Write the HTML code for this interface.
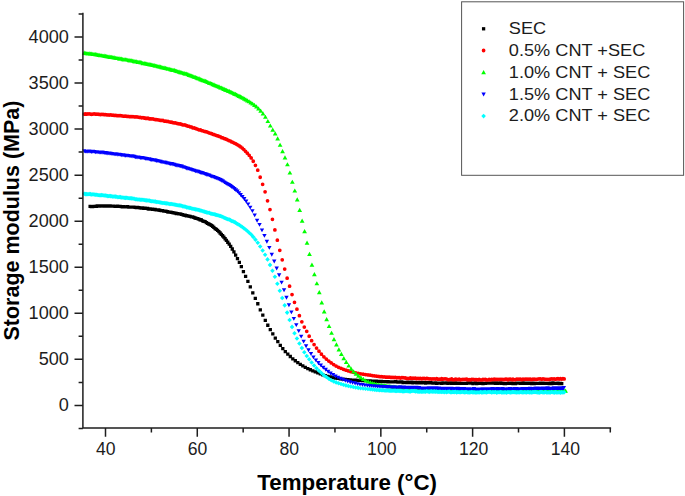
<!DOCTYPE html>
<html><head><meta charset="utf-8"><style>
html,body{margin:0;padding:0;background:#fff;overflow:hidden;}
svg{display:block;position:absolute;left:0;top:0;font-family:"Liberation Sans",sans-serif;}
</style></head><body>
<svg width="685" height="496" viewBox="0 0 685 496">
<rect width="685" height="496" fill="#fff"/>
<g font-size="17.6" fill="#1c1c1c">
<text transform="translate(68.9,411.2) scale(1.03,1)" text-anchor="end">0</text>
<text transform="translate(68.9,365.1) scale(1.03,1)" text-anchor="end">500</text>
<text transform="translate(68.9,319.1) scale(1.03,1)" text-anchor="end">1000</text>
<text transform="translate(68.9,273.1) scale(1.03,1)" text-anchor="end">1500</text>
<text transform="translate(68.9,227.0) scale(1.03,1)" text-anchor="end">2000</text>
<text transform="translate(68.9,180.9) scale(1.03,1)" text-anchor="end">2500</text>
<text transform="translate(68.9,134.9) scale(1.03,1)" text-anchor="end">3000</text>
<text transform="translate(68.9,88.8) scale(1.03,1)" text-anchor="end">3500</text>
<text transform="translate(68.9,42.8) scale(1.03,1)" text-anchor="end">4000</text>
<text x="105.7" y="455.1" text-anchor="middle">40</text>
<text x="197.5" y="455.1" text-anchor="middle">60</text>
<text x="289.3" y="455.1" text-anchor="middle">80</text>
<text x="381.8" y="455.1" text-anchor="middle">100</text>
<text x="473.6" y="455.1" text-anchor="middle">120</text>
<text x="565.4" y="455.1" text-anchor="middle">140</text>
</g>
<g font-weight="bold" font-size="21.9" fill="#000">
<text transform="translate(257.3,489.5) scale(1.02,1.01)">Temperature (°C)</text>
<text transform="translate(18.7,340.5) rotate(-90) scale(0.981,1)">Storage modulus (MPa)</text>
</g>
<path fill="#000000" d="M88.45 204.80h3.3v3.3h-3.3zM89.70 204.93h3.3v3.3h-3.3zM90.95 204.90h3.3v3.3h-3.3zM92.20 204.74h3.3v3.3h-3.3zM93.45 204.65h3.3v3.3h-3.3zM94.70 204.59h3.3v3.3h-3.3zM95.95 204.37h3.3v3.3h-3.3zM97.20 204.42h3.3v3.3h-3.3zM98.45 204.33h3.3v3.3h-3.3zM99.70 204.23h3.3v3.3h-3.3zM100.95 204.30h3.3v3.3h-3.3zM102.20 204.35h3.3v3.3h-3.3zM103.45 204.36h3.3v3.3h-3.3zM104.70 204.52h3.3v3.3h-3.3zM105.95 204.37h3.3v3.3h-3.3zM107.20 204.38h3.3v3.3h-3.3zM108.45 204.34h3.3v3.3h-3.3zM109.70 204.44h3.3v3.3h-3.3zM110.95 204.38h3.3v3.3h-3.3zM112.20 204.56h3.3v3.3h-3.3zM113.45 204.66h3.3v3.3h-3.3zM114.70 204.67h3.3v3.3h-3.3zM115.95 204.49h3.3v3.3h-3.3zM117.20 204.66h3.3v3.3h-3.3zM118.45 204.78h3.3v3.3h-3.3zM119.70 204.99h3.3v3.3h-3.3zM120.95 205.08h3.3v3.3h-3.3zM122.20 204.93h3.3v3.3h-3.3zM123.45 205.17h3.3v3.3h-3.3zM124.70 205.23h3.3v3.3h-3.3zM125.95 205.03h3.3v3.3h-3.3zM127.20 205.43h3.3v3.3h-3.3zM128.45 205.57h3.3v3.3h-3.3zM129.70 205.52h3.3v3.3h-3.3zM130.95 205.44h3.3v3.3h-3.3zM132.20 205.55h3.3v3.3h-3.3zM133.45 205.72h3.3v3.3h-3.3zM134.70 205.97h3.3v3.3h-3.3zM135.95 205.77h3.3v3.3h-3.3zM137.20 205.96h3.3v3.3h-3.3zM138.45 206.19h3.3v3.3h-3.3zM139.70 206.38h3.3v3.3h-3.3zM140.95 206.30h3.3v3.3h-3.3zM142.20 206.74h3.3v3.3h-3.3zM143.45 206.61h3.3v3.3h-3.3zM144.70 206.69h3.3v3.3h-3.3zM145.95 206.85h3.3v3.3h-3.3zM147.20 207.38h3.3v3.3h-3.3zM148.45 207.23h3.3v3.3h-3.3zM149.70 207.42h3.3v3.3h-3.3zM150.95 207.61h3.3v3.3h-3.3zM152.20 207.74h3.3v3.3h-3.3zM153.45 207.85h3.3v3.3h-3.3zM154.70 208.14h3.3v3.3h-3.3zM155.95 208.23h3.3v3.3h-3.3zM157.20 208.37h3.3v3.3h-3.3zM158.45 208.66h3.3v3.3h-3.3zM159.70 208.93h3.3v3.3h-3.3zM160.95 209.02h3.3v3.3h-3.3zM162.20 209.38h3.3v3.3h-3.3zM163.45 209.50h3.3v3.3h-3.3zM164.70 209.68h3.3v3.3h-3.3zM165.95 210.09h3.3v3.3h-3.3zM167.20 210.43h3.3v3.3h-3.3zM168.45 210.52h3.3v3.3h-3.3zM169.70 210.81h3.3v3.3h-3.3zM170.95 211.05h3.3v3.3h-3.3zM172.20 211.31h3.3v3.3h-3.3zM173.45 211.44h3.3v3.3h-3.3zM174.70 211.85h3.3v3.3h-3.3zM175.95 212.06h3.3v3.3h-3.3zM177.20 212.24h3.3v3.3h-3.3zM178.45 212.31h3.3v3.3h-3.3zM179.70 212.79h3.3v3.3h-3.3zM180.95 213.02h3.3v3.3h-3.3zM182.20 213.38h3.3v3.3h-3.3zM183.45 213.62h3.3v3.3h-3.3zM184.70 214.09h3.3v3.3h-3.3zM185.95 214.31h3.3v3.3h-3.3zM187.20 214.55h3.3v3.3h-3.3zM188.45 214.79h3.3v3.3h-3.3zM189.70 215.27h3.3v3.3h-3.3zM190.95 215.30h3.3v3.3h-3.3zM192.20 215.65h3.3v3.3h-3.3zM193.45 216.33h3.3v3.3h-3.3zM194.70 216.63h3.3v3.3h-3.3zM195.95 216.94h3.3v3.3h-3.3zM197.20 217.49h3.3v3.3h-3.3zM198.45 218.09h3.3v3.3h-3.3zM199.70 218.37h3.3v3.3h-3.3zM200.95 219.14h3.3v3.3h-3.3zM202.20 219.71h3.3v3.3h-3.3zM203.45 220.05h3.3v3.3h-3.3zM204.70 220.89h3.3v3.3h-3.3zM205.95 221.72h3.3v3.3h-3.3zM207.20 222.34h3.3v3.3h-3.3zM208.45 223.03h3.3v3.3h-3.3zM209.70 223.74h3.3v3.3h-3.3zM210.95 224.58h3.3v3.3h-3.3zM212.20 225.65h3.3v3.3h-3.3zM213.45 226.89h3.3v3.3h-3.3zM214.70 227.68h3.3v3.3h-3.3zM215.95 228.81h3.3v3.3h-3.3zM217.20 230.05h3.3v3.3h-3.3zM218.45 231.35h3.3v3.3h-3.3zM219.70 232.66h3.3v3.3h-3.3zM220.95 234.08h3.3v3.3h-3.3zM222.20 235.45h3.3v3.3h-3.3zM223.45 237.12h3.3v3.3h-3.3zM224.75 238.80h3.3v3.3h-3.3zM226.12 240.60h3.3v3.3h-3.3zM227.55 242.57h3.3v3.3h-3.3zM229.05 244.78h3.3v3.3h-3.3zM230.62 247.33h3.3v3.3h-3.3zM232.27 250.26h3.3v3.3h-3.3zM234.00 253.49h3.3v3.3h-3.3zM235.81 256.91h3.3v3.3h-3.3zM237.70 260.66h3.3v3.3h-3.3zM239.69 265.04h3.3v3.3h-3.3zM241.77 270.03h3.3v3.3h-3.3zM243.96 274.65h3.3v3.3h-3.3zM246.25 279.70h3.3v3.3h-3.3zM248.65 285.17h3.3v3.3h-3.3zM251.15 291.14h3.3v3.3h-3.3zM253.65 296.72h3.3v3.3h-3.3zM256.15 302.09h3.3v3.3h-3.3zM258.65 308.17h3.3v3.3h-3.3zM261.15 313.45h3.3v3.3h-3.3zM263.65 318.65h3.3v3.3h-3.3zM266.15 323.61h3.3v3.3h-3.3zM268.65 328.06h3.3v3.3h-3.3zM271.15 332.29h3.3v3.3h-3.3zM273.65 336.50h3.3v3.3h-3.3zM276.15 340.04h3.3v3.3h-3.3zM278.65 343.70h3.3v3.3h-3.3zM281.15 346.97h3.3v3.3h-3.3zM283.65 349.89h3.3v3.3h-3.3zM286.15 352.45h3.3v3.3h-3.3zM288.65 354.85h3.3v3.3h-3.3zM291.15 357.14h3.3v3.3h-3.3zM293.65 359.09h3.3v3.3h-3.3zM296.15 360.91h3.3v3.3h-3.3zM298.65 362.68h3.3v3.3h-3.3zM301.15 364.26h3.3v3.3h-3.3zM303.65 365.69h3.3v3.3h-3.3zM306.15 366.95h3.3v3.3h-3.3zM308.65 368.10h3.3v3.3h-3.3zM311.15 369.20h3.3v3.3h-3.3zM313.65 370.23h3.3v3.3h-3.3zM316.15 371.23h3.3v3.3h-3.3zM318.65 372.22h3.3v3.3h-3.3zM321.15 373.15h3.3v3.3h-3.3zM323.65 373.95h3.3v3.3h-3.3zM326.15 374.68h3.3v3.3h-3.3zM328.65 375.32h3.3v3.3h-3.3zM331.15 375.91h3.3v3.3h-3.3zM333.65 376.40h3.3v3.3h-3.3zM336.15 376.82h3.3v3.3h-3.3zM338.65 377.17h3.3v3.3h-3.3zM341.15 377.49h3.3v3.3h-3.3zM343.65 377.79h3.3v3.3h-3.3zM346.15 378.04h3.3v3.3h-3.3zM348.65 378.24h3.3v3.3h-3.3zM351.15 378.39h3.3v3.3h-3.3zM353.65 378.53h3.3v3.3h-3.3zM356.15 378.65h3.3v3.3h-3.3zM358.65 378.77h3.3v3.3h-3.3zM361.15 378.89h3.3v3.3h-3.3zM363.65 379.02h3.3v3.3h-3.3zM366.13 379.15h3.3v3.3h-3.3zM368.45 379.28h3.3v3.3h-3.3zM370.64 379.40h3.3v3.3h-3.3zM372.68 379.51h3.3v3.3h-3.3zM374.60 379.61h3.3v3.3h-3.3zM376.39 379.70h3.3v3.3h-3.3zM378.08 379.78h3.3v3.3h-3.3zM379.66 379.85h3.3v3.3h-3.3zM381.14 379.91h3.3v3.3h-3.3zM382.53 379.96h3.3v3.3h-3.3zM383.83 380.01h3.3v3.3h-3.3zM385.08 380.05h3.3v3.3h-3.3zM386.33 380.10h3.3v3.3h-3.3zM387.58 380.14h3.3v3.3h-3.3zM388.83 380.18h3.3v3.3h-3.3zM390.08 380.22h3.3v3.3h-3.3zM391.33 380.26h3.3v3.3h-3.3zM392.58 380.30h3.3v3.3h-3.3zM393.83 380.04h3.3v3.3h-3.3zM395.08 380.17h3.3v3.3h-3.3zM396.33 380.46h3.3v3.3h-3.3zM397.58 380.57h3.3v3.3h-3.3zM398.83 380.18h3.3v3.3h-3.3zM400.08 380.30h3.3v3.3h-3.3zM401.33 380.89h3.3v3.3h-3.3zM402.58 380.64h3.3v3.3h-3.3zM403.83 380.64h3.3v3.3h-3.3zM405.08 380.91h3.3v3.3h-3.3zM406.33 380.51h3.3v3.3h-3.3zM407.58 380.85h3.3v3.3h-3.3zM408.83 381.01h3.3v3.3h-3.3zM410.08 380.45h3.3v3.3h-3.3zM411.33 381.11h3.3v3.3h-3.3zM412.58 380.68h3.3v3.3h-3.3zM413.83 380.78h3.3v3.3h-3.3zM415.08 381.08h3.3v3.3h-3.3zM416.33 381.14h3.3v3.3h-3.3zM417.58 380.71h3.3v3.3h-3.3zM418.83 381.29h3.3v3.3h-3.3zM420.08 381.09h3.3v3.3h-3.3zM421.33 380.70h3.3v3.3h-3.3zM422.58 381.00h3.3v3.3h-3.3zM423.83 381.40h3.3v3.3h-3.3zM425.08 380.93h3.3v3.3h-3.3zM426.33 381.08h3.3v3.3h-3.3zM427.58 381.22h3.3v3.3h-3.3zM428.83 380.95h3.3v3.3h-3.3zM430.08 381.30h3.3v3.3h-3.3zM431.33 381.50h3.3v3.3h-3.3zM432.58 381.38h3.3v3.3h-3.3zM433.83 381.32h3.3v3.3h-3.3zM435.08 381.59h3.3v3.3h-3.3zM436.33 381.45h3.3v3.3h-3.3zM437.58 381.44h3.3v3.3h-3.3zM438.83 381.46h3.3v3.3h-3.3zM440.08 381.63h3.3v3.3h-3.3zM441.33 381.16h3.3v3.3h-3.3zM442.58 381.38h3.3v3.3h-3.3zM443.83 381.41h3.3v3.3h-3.3zM445.08 381.22h3.3v3.3h-3.3zM446.33 381.71h3.3v3.3h-3.3zM447.58 381.36h3.3v3.3h-3.3zM448.83 381.30h3.3v3.3h-3.3zM450.08 381.64h3.3v3.3h-3.3zM451.33 381.23h3.3v3.3h-3.3zM452.58 381.78h3.3v3.3h-3.3zM453.83 381.17h3.3v3.3h-3.3zM455.08 381.77h3.3v3.3h-3.3zM456.33 381.59h3.3v3.3h-3.3zM457.58 381.53h3.3v3.3h-3.3zM458.83 381.80h3.3v3.3h-3.3zM460.08 381.82h3.3v3.3h-3.3zM461.33 381.78h3.3v3.3h-3.3zM462.58 381.80h3.3v3.3h-3.3zM463.83 381.76h3.3v3.3h-3.3zM465.08 381.74h3.3v3.3h-3.3zM466.33 381.31h3.3v3.3h-3.3zM467.58 381.27h3.3v3.3h-3.3zM468.83 381.34h3.3v3.3h-3.3zM470.08 381.49h3.3v3.3h-3.3zM471.33 381.95h3.3v3.3h-3.3zM472.58 381.52h3.3v3.3h-3.3zM473.83 381.35h3.3v3.3h-3.3zM475.08 381.84h3.3v3.3h-3.3zM476.33 381.66h3.3v3.3h-3.3zM477.58 381.49h3.3v3.3h-3.3zM478.83 381.58h3.3v3.3h-3.3zM480.08 381.47h3.3v3.3h-3.3zM481.33 381.84h3.3v3.3h-3.3zM482.58 381.64h3.3v3.3h-3.3zM483.83 381.72h3.3v3.3h-3.3zM485.08 381.47h3.3v3.3h-3.3zM486.33 381.56h3.3v3.3h-3.3zM487.58 381.55h3.3v3.3h-3.3zM488.83 381.43h3.3v3.3h-3.3zM490.08 381.41h3.3v3.3h-3.3zM491.33 381.31h3.3v3.3h-3.3zM492.58 381.35h3.3v3.3h-3.3zM493.83 381.65h3.3v3.3h-3.3zM495.08 381.36h3.3v3.3h-3.3zM496.33 381.76h3.3v3.3h-3.3zM497.58 381.43h3.3v3.3h-3.3zM498.83 381.35h3.3v3.3h-3.3zM500.08 381.60h3.3v3.3h-3.3zM501.33 381.75h3.3v3.3h-3.3zM502.58 381.91h3.3v3.3h-3.3zM503.83 381.92h3.3v3.3h-3.3zM505.08 381.77h3.3v3.3h-3.3zM506.33 381.63h3.3v3.3h-3.3zM507.58 381.54h3.3v3.3h-3.3zM508.83 381.77h3.3v3.3h-3.3zM510.08 381.45h3.3v3.3h-3.3zM511.33 381.89h3.3v3.3h-3.3zM512.58 381.69h3.3v3.3h-3.3zM513.83 381.98h3.3v3.3h-3.3zM515.08 381.39h3.3v3.3h-3.3zM516.33 381.42h3.3v3.3h-3.3zM517.58 381.38h3.3v3.3h-3.3zM518.83 381.82h3.3v3.3h-3.3zM520.08 381.74h3.3v3.3h-3.3zM521.33 381.34h3.3v3.3h-3.3zM522.58 381.72h3.3v3.3h-3.3zM523.83 381.49h3.3v3.3h-3.3zM525.08 381.59h3.3v3.3h-3.3zM526.33 381.68h3.3v3.3h-3.3zM527.58 381.47h3.3v3.3h-3.3zM528.83 381.76h3.3v3.3h-3.3zM530.08 381.91h3.3v3.3h-3.3zM531.33 381.38h3.3v3.3h-3.3zM532.58 381.95h3.3v3.3h-3.3zM533.83 381.63h3.3v3.3h-3.3zM535.08 381.67h3.3v3.3h-3.3zM536.33 381.79h3.3v3.3h-3.3zM537.58 381.77h3.3v3.3h-3.3zM538.83 381.45h3.3v3.3h-3.3zM540.08 381.74h3.3v3.3h-3.3zM541.33 381.59h3.3v3.3h-3.3zM542.58 381.73h3.3v3.3h-3.3zM543.83 381.67h3.3v3.3h-3.3zM545.08 381.69h3.3v3.3h-3.3zM546.33 381.74h3.3v3.3h-3.3zM547.58 381.94h3.3v3.3h-3.3zM548.83 381.50h3.3v3.3h-3.3zM550.08 381.96h3.3v3.3h-3.3zM551.33 381.31h3.3v3.3h-3.3zM552.58 381.67h3.3v3.3h-3.3zM553.83 381.64h3.3v3.3h-3.3zM555.08 381.82h3.3v3.3h-3.3zM556.33 381.41h3.3v3.3h-3.3zM557.58 381.98h3.3v3.3h-3.3zM558.83 381.87h3.3v3.3h-3.3zM560.08 381.89h3.3v3.3h-3.3z"/>
<path fill="#ff0000" d="M82.32 114.10a1.88 1.88 0 1 0 3.76 0a1.88 1.88 0 1 0 -3.76 0zM83.57 114.00a1.88 1.88 0 1 0 3.76 0a1.88 1.88 0 1 0 -3.76 0zM84.82 114.15a1.88 1.88 0 1 0 3.76 0a1.88 1.88 0 1 0 -3.76 0zM86.07 113.83a1.88 1.88 0 1 0 3.76 0a1.88 1.88 0 1 0 -3.76 0zM87.32 113.92a1.88 1.88 0 1 0 3.76 0a1.88 1.88 0 1 0 -3.76 0zM88.57 114.12a1.88 1.88 0 1 0 3.76 0a1.88 1.88 0 1 0 -3.76 0zM89.82 114.27a1.88 1.88 0 1 0 3.76 0a1.88 1.88 0 1 0 -3.76 0zM91.07 114.01a1.88 1.88 0 1 0 3.76 0a1.88 1.88 0 1 0 -3.76 0zM92.32 113.98a1.88 1.88 0 1 0 3.76 0a1.88 1.88 0 1 0 -3.76 0zM93.57 114.13a1.88 1.88 0 1 0 3.76 0a1.88 1.88 0 1 0 -3.76 0zM94.82 114.15a1.88 1.88 0 1 0 3.76 0a1.88 1.88 0 1 0 -3.76 0zM96.07 114.23a1.88 1.88 0 1 0 3.76 0a1.88 1.88 0 1 0 -3.76 0zM97.32 114.43a1.88 1.88 0 1 0 3.76 0a1.88 1.88 0 1 0 -3.76 0zM98.57 114.58a1.88 1.88 0 1 0 3.76 0a1.88 1.88 0 1 0 -3.76 0zM99.82 114.48a1.88 1.88 0 1 0 3.76 0a1.88 1.88 0 1 0 -3.76 0zM101.07 114.42a1.88 1.88 0 1 0 3.76 0a1.88 1.88 0 1 0 -3.76 0zM102.32 114.67a1.88 1.88 0 1 0 3.76 0a1.88 1.88 0 1 0 -3.76 0zM103.57 114.70a1.88 1.88 0 1 0 3.76 0a1.88 1.88 0 1 0 -3.76 0zM104.82 114.76a1.88 1.88 0 1 0 3.76 0a1.88 1.88 0 1 0 -3.76 0zM106.07 114.99a1.88 1.88 0 1 0 3.76 0a1.88 1.88 0 1 0 -3.76 0zM107.32 115.05a1.88 1.88 0 1 0 3.76 0a1.88 1.88 0 1 0 -3.76 0zM108.57 114.89a1.88 1.88 0 1 0 3.76 0a1.88 1.88 0 1 0 -3.76 0zM109.82 115.12a1.88 1.88 0 1 0 3.76 0a1.88 1.88 0 1 0 -3.76 0zM111.07 115.22a1.88 1.88 0 1 0 3.76 0a1.88 1.88 0 1 0 -3.76 0zM112.32 115.44a1.88 1.88 0 1 0 3.76 0a1.88 1.88 0 1 0 -3.76 0zM113.57 115.49a1.88 1.88 0 1 0 3.76 0a1.88 1.88 0 1 0 -3.76 0zM114.82 115.60a1.88 1.88 0 1 0 3.76 0a1.88 1.88 0 1 0 -3.76 0zM116.07 115.56a1.88 1.88 0 1 0 3.76 0a1.88 1.88 0 1 0 -3.76 0zM117.32 115.64a1.88 1.88 0 1 0 3.76 0a1.88 1.88 0 1 0 -3.76 0zM118.57 115.57a1.88 1.88 0 1 0 3.76 0a1.88 1.88 0 1 0 -3.76 0zM119.82 115.77a1.88 1.88 0 1 0 3.76 0a1.88 1.88 0 1 0 -3.76 0zM121.07 116.01a1.88 1.88 0 1 0 3.76 0a1.88 1.88 0 1 0 -3.76 0zM122.32 116.12a1.88 1.88 0 1 0 3.76 0a1.88 1.88 0 1 0 -3.76 0zM123.57 116.09a1.88 1.88 0 1 0 3.76 0a1.88 1.88 0 1 0 -3.76 0zM124.82 116.28a1.88 1.88 0 1 0 3.76 0a1.88 1.88 0 1 0 -3.76 0zM126.07 116.27a1.88 1.88 0 1 0 3.76 0a1.88 1.88 0 1 0 -3.76 0zM127.32 116.52a1.88 1.88 0 1 0 3.76 0a1.88 1.88 0 1 0 -3.76 0zM128.57 116.52a1.88 1.88 0 1 0 3.76 0a1.88 1.88 0 1 0 -3.76 0zM129.82 116.73a1.88 1.88 0 1 0 3.76 0a1.88 1.88 0 1 0 -3.76 0zM131.07 116.57a1.88 1.88 0 1 0 3.76 0a1.88 1.88 0 1 0 -3.76 0zM132.32 116.76a1.88 1.88 0 1 0 3.76 0a1.88 1.88 0 1 0 -3.76 0zM133.57 116.98a1.88 1.88 0 1 0 3.76 0a1.88 1.88 0 1 0 -3.76 0zM134.82 116.89a1.88 1.88 0 1 0 3.76 0a1.88 1.88 0 1 0 -3.76 0zM136.07 117.01a1.88 1.88 0 1 0 3.76 0a1.88 1.88 0 1 0 -3.76 0zM137.32 117.27a1.88 1.88 0 1 0 3.76 0a1.88 1.88 0 1 0 -3.76 0zM138.57 117.47a1.88 1.88 0 1 0 3.76 0a1.88 1.88 0 1 0 -3.76 0zM139.82 117.78a1.88 1.88 0 1 0 3.76 0a1.88 1.88 0 1 0 -3.76 0zM141.07 117.70a1.88 1.88 0 1 0 3.76 0a1.88 1.88 0 1 0 -3.76 0zM142.32 117.99a1.88 1.88 0 1 0 3.76 0a1.88 1.88 0 1 0 -3.76 0zM143.57 118.26a1.88 1.88 0 1 0 3.76 0a1.88 1.88 0 1 0 -3.76 0zM144.82 118.39a1.88 1.88 0 1 0 3.76 0a1.88 1.88 0 1 0 -3.76 0zM146.07 118.15a1.88 1.88 0 1 0 3.76 0a1.88 1.88 0 1 0 -3.76 0zM147.32 118.75a1.88 1.88 0 1 0 3.76 0a1.88 1.88 0 1 0 -3.76 0zM148.57 118.89a1.88 1.88 0 1 0 3.76 0a1.88 1.88 0 1 0 -3.76 0zM149.82 118.98a1.88 1.88 0 1 0 3.76 0a1.88 1.88 0 1 0 -3.76 0zM151.07 118.90a1.88 1.88 0 1 0 3.76 0a1.88 1.88 0 1 0 -3.76 0zM152.32 119.30a1.88 1.88 0 1 0 3.76 0a1.88 1.88 0 1 0 -3.76 0zM153.57 119.59a1.88 1.88 0 1 0 3.76 0a1.88 1.88 0 1 0 -3.76 0zM154.82 119.67a1.88 1.88 0 1 0 3.76 0a1.88 1.88 0 1 0 -3.76 0zM156.07 119.78a1.88 1.88 0 1 0 3.76 0a1.88 1.88 0 1 0 -3.76 0zM157.32 120.07a1.88 1.88 0 1 0 3.76 0a1.88 1.88 0 1 0 -3.76 0zM158.57 120.42a1.88 1.88 0 1 0 3.76 0a1.88 1.88 0 1 0 -3.76 0zM159.82 120.29a1.88 1.88 0 1 0 3.76 0a1.88 1.88 0 1 0 -3.76 0zM161.07 120.47a1.88 1.88 0 1 0 3.76 0a1.88 1.88 0 1 0 -3.76 0zM162.32 121.09a1.88 1.88 0 1 0 3.76 0a1.88 1.88 0 1 0 -3.76 0zM163.57 121.02a1.88 1.88 0 1 0 3.76 0a1.88 1.88 0 1 0 -3.76 0zM164.82 121.32a1.88 1.88 0 1 0 3.76 0a1.88 1.88 0 1 0 -3.76 0zM166.07 121.46a1.88 1.88 0 1 0 3.76 0a1.88 1.88 0 1 0 -3.76 0zM167.32 121.84a1.88 1.88 0 1 0 3.76 0a1.88 1.88 0 1 0 -3.76 0zM168.57 122.10a1.88 1.88 0 1 0 3.76 0a1.88 1.88 0 1 0 -3.76 0zM169.82 122.18a1.88 1.88 0 1 0 3.76 0a1.88 1.88 0 1 0 -3.76 0zM171.07 122.68a1.88 1.88 0 1 0 3.76 0a1.88 1.88 0 1 0 -3.76 0zM172.32 122.93a1.88 1.88 0 1 0 3.76 0a1.88 1.88 0 1 0 -3.76 0zM173.57 122.92a1.88 1.88 0 1 0 3.76 0a1.88 1.88 0 1 0 -3.76 0zM174.82 123.33a1.88 1.88 0 1 0 3.76 0a1.88 1.88 0 1 0 -3.76 0zM176.07 123.73a1.88 1.88 0 1 0 3.76 0a1.88 1.88 0 1 0 -3.76 0zM177.32 123.91a1.88 1.88 0 1 0 3.76 0a1.88 1.88 0 1 0 -3.76 0zM178.57 123.91a1.88 1.88 0 1 0 3.76 0a1.88 1.88 0 1 0 -3.76 0zM179.82 124.47a1.88 1.88 0 1 0 3.76 0a1.88 1.88 0 1 0 -3.76 0zM181.07 124.87a1.88 1.88 0 1 0 3.76 0a1.88 1.88 0 1 0 -3.76 0zM182.32 124.94a1.88 1.88 0 1 0 3.76 0a1.88 1.88 0 1 0 -3.76 0zM183.57 125.17a1.88 1.88 0 1 0 3.76 0a1.88 1.88 0 1 0 -3.76 0zM184.82 125.66a1.88 1.88 0 1 0 3.76 0a1.88 1.88 0 1 0 -3.76 0zM186.07 126.14a1.88 1.88 0 1 0 3.76 0a1.88 1.88 0 1 0 -3.76 0zM187.32 126.35a1.88 1.88 0 1 0 3.76 0a1.88 1.88 0 1 0 -3.76 0zM188.57 126.96a1.88 1.88 0 1 0 3.76 0a1.88 1.88 0 1 0 -3.76 0zM189.82 127.12a1.88 1.88 0 1 0 3.76 0a1.88 1.88 0 1 0 -3.76 0zM191.07 127.90a1.88 1.88 0 1 0 3.76 0a1.88 1.88 0 1 0 -3.76 0zM192.32 127.95a1.88 1.88 0 1 0 3.76 0a1.88 1.88 0 1 0 -3.76 0zM193.57 128.41a1.88 1.88 0 1 0 3.76 0a1.88 1.88 0 1 0 -3.76 0zM194.82 128.94a1.88 1.88 0 1 0 3.76 0a1.88 1.88 0 1 0 -3.76 0zM196.07 129.33a1.88 1.88 0 1 0 3.76 0a1.88 1.88 0 1 0 -3.76 0zM197.32 129.87a1.88 1.88 0 1 0 3.76 0a1.88 1.88 0 1 0 -3.76 0zM198.57 129.92a1.88 1.88 0 1 0 3.76 0a1.88 1.88 0 1 0 -3.76 0zM199.82 130.60a1.88 1.88 0 1 0 3.76 0a1.88 1.88 0 1 0 -3.76 0zM201.07 130.80a1.88 1.88 0 1 0 3.76 0a1.88 1.88 0 1 0 -3.76 0zM202.32 131.33a1.88 1.88 0 1 0 3.76 0a1.88 1.88 0 1 0 -3.76 0zM203.57 131.69a1.88 1.88 0 1 0 3.76 0a1.88 1.88 0 1 0 -3.76 0zM204.82 131.93a1.88 1.88 0 1 0 3.76 0a1.88 1.88 0 1 0 -3.76 0zM206.07 132.29a1.88 1.88 0 1 0 3.76 0a1.88 1.88 0 1 0 -3.76 0zM207.32 132.98a1.88 1.88 0 1 0 3.76 0a1.88 1.88 0 1 0 -3.76 0zM208.57 133.27a1.88 1.88 0 1 0 3.76 0a1.88 1.88 0 1 0 -3.76 0zM209.82 133.73a1.88 1.88 0 1 0 3.76 0a1.88 1.88 0 1 0 -3.76 0zM211.07 134.36a1.88 1.88 0 1 0 3.76 0a1.88 1.88 0 1 0 -3.76 0zM212.32 134.68a1.88 1.88 0 1 0 3.76 0a1.88 1.88 0 1 0 -3.76 0zM213.57 135.06a1.88 1.88 0 1 0 3.76 0a1.88 1.88 0 1 0 -3.76 0zM214.82 135.54a1.88 1.88 0 1 0 3.76 0a1.88 1.88 0 1 0 -3.76 0zM216.07 135.93a1.88 1.88 0 1 0 3.76 0a1.88 1.88 0 1 0 -3.76 0zM217.32 136.42a1.88 1.88 0 1 0 3.76 0a1.88 1.88 0 1 0 -3.76 0zM218.57 136.81a1.88 1.88 0 1 0 3.76 0a1.88 1.88 0 1 0 -3.76 0zM219.82 137.70a1.88 1.88 0 1 0 3.76 0a1.88 1.88 0 1 0 -3.76 0zM221.07 137.96a1.88 1.88 0 1 0 3.76 0a1.88 1.88 0 1 0 -3.76 0zM222.32 138.58a1.88 1.88 0 1 0 3.76 0a1.88 1.88 0 1 0 -3.76 0zM223.57 138.96a1.88 1.88 0 1 0 3.76 0a1.88 1.88 0 1 0 -3.76 0zM224.82 139.38a1.88 1.88 0 1 0 3.76 0a1.88 1.88 0 1 0 -3.76 0zM226.07 140.07a1.88 1.88 0 1 0 3.76 0a1.88 1.88 0 1 0 -3.76 0zM227.32 140.63a1.88 1.88 0 1 0 3.76 0a1.88 1.88 0 1 0 -3.76 0zM228.57 141.03a1.88 1.88 0 1 0 3.76 0a1.88 1.88 0 1 0 -3.76 0zM229.82 141.96a1.88 1.88 0 1 0 3.76 0a1.88 1.88 0 1 0 -3.76 0zM231.07 142.33a1.88 1.88 0 1 0 3.76 0a1.88 1.88 0 1 0 -3.76 0zM232.32 143.10a1.88 1.88 0 1 0 3.76 0a1.88 1.88 0 1 0 -3.76 0zM233.57 143.51a1.88 1.88 0 1 0 3.76 0a1.88 1.88 0 1 0 -3.76 0zM234.82 144.34a1.88 1.88 0 1 0 3.76 0a1.88 1.88 0 1 0 -3.76 0zM236.11 145.07a1.88 1.88 0 1 0 3.76 0a1.88 1.88 0 1 0 -3.76 0zM237.47 145.91a1.88 1.88 0 1 0 3.76 0a1.88 1.88 0 1 0 -3.76 0zM238.90 146.89a1.88 1.88 0 1 0 3.76 0a1.88 1.88 0 1 0 -3.76 0zM240.41 148.10a1.88 1.88 0 1 0 3.76 0a1.88 1.88 0 1 0 -3.76 0zM242.00 149.62a1.88 1.88 0 1 0 3.76 0a1.88 1.88 0 1 0 -3.76 0zM243.68 151.35a1.88 1.88 0 1 0 3.76 0a1.88 1.88 0 1 0 -3.76 0zM245.45 153.22a1.88 1.88 0 1 0 3.76 0a1.88 1.88 0 1 0 -3.76 0zM247.32 155.36a1.88 1.88 0 1 0 3.76 0a1.88 1.88 0 1 0 -3.76 0zM249.29 157.95a1.88 1.88 0 1 0 3.76 0a1.88 1.88 0 1 0 -3.76 0zM251.37 161.25a1.88 1.88 0 1 0 3.76 0a1.88 1.88 0 1 0 -3.76 0zM253.56 165.30a1.88 1.88 0 1 0 3.76 0a1.88 1.88 0 1 0 -3.76 0zM255.87 170.19a1.88 1.88 0 1 0 3.76 0a1.88 1.88 0 1 0 -3.76 0zM258.31 177.25a1.88 1.88 0 1 0 3.76 0a1.88 1.88 0 1 0 -3.76 0zM260.76 184.32a1.88 1.88 0 1 0 3.76 0a1.88 1.88 0 1 0 -3.76 0zM263.21 191.86a1.88 1.88 0 1 0 3.76 0a1.88 1.88 0 1 0 -3.76 0zM265.66 200.80a1.88 1.88 0 1 0 3.76 0a1.88 1.88 0 1 0 -3.76 0zM268.11 209.53a1.88 1.88 0 1 0 3.76 0a1.88 1.88 0 1 0 -3.76 0zM270.56 219.26a1.88 1.88 0 1 0 3.76 0a1.88 1.88 0 1 0 -3.76 0zM273.01 229.98a1.88 1.88 0 1 0 3.76 0a1.88 1.88 0 1 0 -3.76 0zM275.46 240.16a1.88 1.88 0 1 0 3.76 0a1.88 1.88 0 1 0 -3.76 0zM277.91 250.35a1.88 1.88 0 1 0 3.76 0a1.88 1.88 0 1 0 -3.76 0zM280.36 259.86a1.88 1.88 0 1 0 3.76 0a1.88 1.88 0 1 0 -3.76 0zM282.81 269.08a1.88 1.88 0 1 0 3.76 0a1.88 1.88 0 1 0 -3.76 0zM285.26 278.19a1.88 1.88 0 1 0 3.76 0a1.88 1.88 0 1 0 -3.76 0zM287.71 286.16a1.88 1.88 0 1 0 3.76 0a1.88 1.88 0 1 0 -3.76 0zM290.16 294.53a1.88 1.88 0 1 0 3.76 0a1.88 1.88 0 1 0 -3.76 0zM292.61 302.27a1.88 1.88 0 1 0 3.76 0a1.88 1.88 0 1 0 -3.76 0zM295.06 309.13a1.88 1.88 0 1 0 3.76 0a1.88 1.88 0 1 0 -3.76 0zM297.51 315.71a1.88 1.88 0 1 0 3.76 0a1.88 1.88 0 1 0 -3.76 0zM299.96 321.83a1.88 1.88 0 1 0 3.76 0a1.88 1.88 0 1 0 -3.76 0zM302.41 327.08a1.88 1.88 0 1 0 3.76 0a1.88 1.88 0 1 0 -3.76 0zM304.86 331.32a1.88 1.88 0 1 0 3.76 0a1.88 1.88 0 1 0 -3.76 0zM307.31 336.18a1.88 1.88 0 1 0 3.76 0a1.88 1.88 0 1 0 -3.76 0zM309.76 340.73a1.88 1.88 0 1 0 3.76 0a1.88 1.88 0 1 0 -3.76 0zM312.21 344.62a1.88 1.88 0 1 0 3.76 0a1.88 1.88 0 1 0 -3.76 0zM314.66 348.08a1.88 1.88 0 1 0 3.76 0a1.88 1.88 0 1 0 -3.76 0zM317.11 351.22a1.88 1.88 0 1 0 3.76 0a1.88 1.88 0 1 0 -3.76 0zM319.56 354.13a1.88 1.88 0 1 0 3.76 0a1.88 1.88 0 1 0 -3.76 0zM322.01 356.79a1.88 1.88 0 1 0 3.76 0a1.88 1.88 0 1 0 -3.76 0zM324.46 359.08a1.88 1.88 0 1 0 3.76 0a1.88 1.88 0 1 0 -3.76 0zM326.91 361.10a1.88 1.88 0 1 0 3.76 0a1.88 1.88 0 1 0 -3.76 0zM329.36 362.94a1.88 1.88 0 1 0 3.76 0a1.88 1.88 0 1 0 -3.76 0zM331.81 364.61a1.88 1.88 0 1 0 3.76 0a1.88 1.88 0 1 0 -3.76 0zM334.26 366.03a1.88 1.88 0 1 0 3.76 0a1.88 1.88 0 1 0 -3.76 0zM336.71 367.27a1.88 1.88 0 1 0 3.76 0a1.88 1.88 0 1 0 -3.76 0zM339.16 368.36a1.88 1.88 0 1 0 3.76 0a1.88 1.88 0 1 0 -3.76 0zM341.61 369.31a1.88 1.88 0 1 0 3.76 0a1.88 1.88 0 1 0 -3.76 0zM344.06 370.15a1.88 1.88 0 1 0 3.76 0a1.88 1.88 0 1 0 -3.76 0zM346.51 370.93a1.88 1.88 0 1 0 3.76 0a1.88 1.88 0 1 0 -3.76 0zM348.96 371.64a1.88 1.88 0 1 0 3.76 0a1.88 1.88 0 1 0 -3.76 0zM351.41 372.27a1.88 1.88 0 1 0 3.76 0a1.88 1.88 0 1 0 -3.76 0zM353.86 372.85a1.88 1.88 0 1 0 3.76 0a1.88 1.88 0 1 0 -3.76 0zM356.31 373.36a1.88 1.88 0 1 0 3.76 0a1.88 1.88 0 1 0 -3.76 0zM358.76 373.81a1.88 1.88 0 1 0 3.76 0a1.88 1.88 0 1 0 -3.76 0zM361.21 374.21a1.88 1.88 0 1 0 3.76 0a1.88 1.88 0 1 0 -3.76 0zM363.66 374.58a1.88 1.88 0 1 0 3.76 0a1.88 1.88 0 1 0 -3.76 0zM366.08 374.92a1.88 1.88 0 1 0 3.76 0a1.88 1.88 0 1 0 -3.76 0zM368.35 375.22a1.88 1.88 0 1 0 3.76 0a1.88 1.88 0 1 0 -3.76 0zM370.49 375.51a1.88 1.88 0 1 0 3.76 0a1.88 1.88 0 1 0 -3.76 0zM372.49 375.80a1.88 1.88 0 1 0 3.76 0a1.88 1.88 0 1 0 -3.76 0zM374.38 376.06a1.88 1.88 0 1 0 3.76 0a1.88 1.88 0 1 0 -3.76 0zM376.16 376.30a1.88 1.88 0 1 0 3.76 0a1.88 1.88 0 1 0 -3.76 0zM377.82 376.51a1.88 1.88 0 1 0 3.76 0a1.88 1.88 0 1 0 -3.76 0zM379.39 376.68a1.88 1.88 0 1 0 3.76 0a1.88 1.88 0 1 0 -3.76 0zM380.86 376.82a1.88 1.88 0 1 0 3.76 0a1.88 1.88 0 1 0 -3.76 0zM382.25 376.92a1.88 1.88 0 1 0 3.76 0a1.88 1.88 0 1 0 -3.76 0zM383.55 377.01a1.88 1.88 0 1 0 3.76 0a1.88 1.88 0 1 0 -3.76 0zM384.80 377.09a1.88 1.88 0 1 0 3.76 0a1.88 1.88 0 1 0 -3.76 0zM386.05 377.17a1.88 1.88 0 1 0 3.76 0a1.88 1.88 0 1 0 -3.76 0zM387.30 377.24a1.88 1.88 0 1 0 3.76 0a1.88 1.88 0 1 0 -3.76 0zM388.55 377.32a1.88 1.88 0 1 0 3.76 0a1.88 1.88 0 1 0 -3.76 0zM389.80 377.39a1.88 1.88 0 1 0 3.76 0a1.88 1.88 0 1 0 -3.76 0zM391.05 377.46a1.88 1.88 0 1 0 3.76 0a1.88 1.88 0 1 0 -3.76 0zM392.30 377.53a1.88 1.88 0 1 0 3.76 0a1.88 1.88 0 1 0 -3.76 0zM393.55 377.31a1.88 1.88 0 1 0 3.76 0a1.88 1.88 0 1 0 -3.76 0zM394.80 377.81a1.88 1.88 0 1 0 3.76 0a1.88 1.88 0 1 0 -3.76 0zM396.05 377.63a1.88 1.88 0 1 0 3.76 0a1.88 1.88 0 1 0 -3.76 0zM397.30 377.63a1.88 1.88 0 1 0 3.76 0a1.88 1.88 0 1 0 -3.76 0zM398.55 378.10a1.88 1.88 0 1 0 3.76 0a1.88 1.88 0 1 0 -3.76 0zM399.80 377.57a1.88 1.88 0 1 0 3.76 0a1.88 1.88 0 1 0 -3.76 0zM401.05 377.61a1.88 1.88 0 1 0 3.76 0a1.88 1.88 0 1 0 -3.76 0zM402.30 377.87a1.88 1.88 0 1 0 3.76 0a1.88 1.88 0 1 0 -3.76 0zM403.55 377.96a1.88 1.88 0 1 0 3.76 0a1.88 1.88 0 1 0 -3.76 0zM404.80 378.45a1.88 1.88 0 1 0 3.76 0a1.88 1.88 0 1 0 -3.76 0zM406.05 378.37a1.88 1.88 0 1 0 3.76 0a1.88 1.88 0 1 0 -3.76 0zM407.30 378.29a1.88 1.88 0 1 0 3.76 0a1.88 1.88 0 1 0 -3.76 0zM408.55 378.00a1.88 1.88 0 1 0 3.76 0a1.88 1.88 0 1 0 -3.76 0zM409.80 378.45a1.88 1.88 0 1 0 3.76 0a1.88 1.88 0 1 0 -3.76 0zM411.05 378.18a1.88 1.88 0 1 0 3.76 0a1.88 1.88 0 1 0 -3.76 0zM412.30 378.28a1.88 1.88 0 1 0 3.76 0a1.88 1.88 0 1 0 -3.76 0zM413.55 378.07a1.88 1.88 0 1 0 3.76 0a1.88 1.88 0 1 0 -3.76 0zM414.80 378.69a1.88 1.88 0 1 0 3.76 0a1.88 1.88 0 1 0 -3.76 0zM416.05 378.35a1.88 1.88 0 1 0 3.76 0a1.88 1.88 0 1 0 -3.76 0zM417.30 378.57a1.88 1.88 0 1 0 3.76 0a1.88 1.88 0 1 0 -3.76 0zM418.55 378.27a1.88 1.88 0 1 0 3.76 0a1.88 1.88 0 1 0 -3.76 0zM419.80 378.80a1.88 1.88 0 1 0 3.76 0a1.88 1.88 0 1 0 -3.76 0zM421.05 378.30a1.88 1.88 0 1 0 3.76 0a1.88 1.88 0 1 0 -3.76 0zM422.30 378.35a1.88 1.88 0 1 0 3.76 0a1.88 1.88 0 1 0 -3.76 0zM423.55 378.84a1.88 1.88 0 1 0 3.76 0a1.88 1.88 0 1 0 -3.76 0zM424.80 378.39a1.88 1.88 0 1 0 3.76 0a1.88 1.88 0 1 0 -3.76 0zM426.05 378.74a1.88 1.88 0 1 0 3.76 0a1.88 1.88 0 1 0 -3.76 0zM427.30 378.93a1.88 1.88 0 1 0 3.76 0a1.88 1.88 0 1 0 -3.76 0zM428.55 378.80a1.88 1.88 0 1 0 3.76 0a1.88 1.88 0 1 0 -3.76 0zM429.80 379.05a1.88 1.88 0 1 0 3.76 0a1.88 1.88 0 1 0 -3.76 0zM431.05 378.90a1.88 1.88 0 1 0 3.76 0a1.88 1.88 0 1 0 -3.76 0zM432.30 378.97a1.88 1.88 0 1 0 3.76 0a1.88 1.88 0 1 0 -3.76 0zM433.55 379.11a1.88 1.88 0 1 0 3.76 0a1.88 1.88 0 1 0 -3.76 0zM434.80 378.61a1.88 1.88 0 1 0 3.76 0a1.88 1.88 0 1 0 -3.76 0zM436.05 379.28a1.88 1.88 0 1 0 3.76 0a1.88 1.88 0 1 0 -3.76 0zM437.30 379.10a1.88 1.88 0 1 0 3.76 0a1.88 1.88 0 1 0 -3.76 0zM438.55 379.25a1.88 1.88 0 1 0 3.76 0a1.88 1.88 0 1 0 -3.76 0zM439.80 378.73a1.88 1.88 0 1 0 3.76 0a1.88 1.88 0 1 0 -3.76 0zM441.05 379.14a1.88 1.88 0 1 0 3.76 0a1.88 1.88 0 1 0 -3.76 0zM442.30 378.92a1.88 1.88 0 1 0 3.76 0a1.88 1.88 0 1 0 -3.76 0zM443.55 378.99a1.88 1.88 0 1 0 3.76 0a1.88 1.88 0 1 0 -3.76 0zM444.80 379.10a1.88 1.88 0 1 0 3.76 0a1.88 1.88 0 1 0 -3.76 0zM446.05 379.56a1.88 1.88 0 1 0 3.76 0a1.88 1.88 0 1 0 -3.76 0zM447.30 379.57a1.88 1.88 0 1 0 3.76 0a1.88 1.88 0 1 0 -3.76 0zM448.55 379.44a1.88 1.88 0 1 0 3.76 0a1.88 1.88 0 1 0 -3.76 0zM449.80 378.98a1.88 1.88 0 1 0 3.76 0a1.88 1.88 0 1 0 -3.76 0zM451.05 379.64a1.88 1.88 0 1 0 3.76 0a1.88 1.88 0 1 0 -3.76 0zM452.30 379.67a1.88 1.88 0 1 0 3.76 0a1.88 1.88 0 1 0 -3.76 0zM453.55 379.17a1.88 1.88 0 1 0 3.76 0a1.88 1.88 0 1 0 -3.76 0zM454.80 379.38a1.88 1.88 0 1 0 3.76 0a1.88 1.88 0 1 0 -3.76 0zM456.05 379.53a1.88 1.88 0 1 0 3.76 0a1.88 1.88 0 1 0 -3.76 0zM457.30 379.25a1.88 1.88 0 1 0 3.76 0a1.88 1.88 0 1 0 -3.76 0zM458.55 379.76a1.88 1.88 0 1 0 3.76 0a1.88 1.88 0 1 0 -3.76 0zM459.80 379.73a1.88 1.88 0 1 0 3.76 0a1.88 1.88 0 1 0 -3.76 0zM461.05 379.49a1.88 1.88 0 1 0 3.76 0a1.88 1.88 0 1 0 -3.76 0zM462.30 379.49a1.88 1.88 0 1 0 3.76 0a1.88 1.88 0 1 0 -3.76 0zM463.55 379.46a1.88 1.88 0 1 0 3.76 0a1.88 1.88 0 1 0 -3.76 0zM464.80 379.18a1.88 1.88 0 1 0 3.76 0a1.88 1.88 0 1 0 -3.76 0zM466.05 379.78a1.88 1.88 0 1 0 3.76 0a1.88 1.88 0 1 0 -3.76 0zM467.30 379.67a1.88 1.88 0 1 0 3.76 0a1.88 1.88 0 1 0 -3.76 0zM468.55 379.88a1.88 1.88 0 1 0 3.76 0a1.88 1.88 0 1 0 -3.76 0zM469.80 379.39a1.88 1.88 0 1 0 3.76 0a1.88 1.88 0 1 0 -3.76 0zM471.05 379.32a1.88 1.88 0 1 0 3.76 0a1.88 1.88 0 1 0 -3.76 0zM472.30 379.71a1.88 1.88 0 1 0 3.76 0a1.88 1.88 0 1 0 -3.76 0zM473.55 379.68a1.88 1.88 0 1 0 3.76 0a1.88 1.88 0 1 0 -3.76 0zM474.80 379.67a1.88 1.88 0 1 0 3.76 0a1.88 1.88 0 1 0 -3.76 0zM476.05 379.90a1.88 1.88 0 1 0 3.76 0a1.88 1.88 0 1 0 -3.76 0zM477.30 379.29a1.88 1.88 0 1 0 3.76 0a1.88 1.88 0 1 0 -3.76 0zM478.55 379.76a1.88 1.88 0 1 0 3.76 0a1.88 1.88 0 1 0 -3.76 0zM479.80 379.93a1.88 1.88 0 1 0 3.76 0a1.88 1.88 0 1 0 -3.76 0zM481.05 379.29a1.88 1.88 0 1 0 3.76 0a1.88 1.88 0 1 0 -3.76 0zM482.30 379.66a1.88 1.88 0 1 0 3.76 0a1.88 1.88 0 1 0 -3.76 0zM483.55 379.36a1.88 1.88 0 1 0 3.76 0a1.88 1.88 0 1 0 -3.76 0zM484.80 379.94a1.88 1.88 0 1 0 3.76 0a1.88 1.88 0 1 0 -3.76 0zM486.05 379.84a1.88 1.88 0 1 0 3.76 0a1.88 1.88 0 1 0 -3.76 0zM487.30 379.49a1.88 1.88 0 1 0 3.76 0a1.88 1.88 0 1 0 -3.76 0zM488.55 379.93a1.88 1.88 0 1 0 3.76 0a1.88 1.88 0 1 0 -3.76 0zM489.80 379.45a1.88 1.88 0 1 0 3.76 0a1.88 1.88 0 1 0 -3.76 0zM491.05 379.51a1.88 1.88 0 1 0 3.76 0a1.88 1.88 0 1 0 -3.76 0zM492.30 379.25a1.88 1.88 0 1 0 3.76 0a1.88 1.88 0 1 0 -3.76 0zM493.55 379.47a1.88 1.88 0 1 0 3.76 0a1.88 1.88 0 1 0 -3.76 0zM494.80 379.32a1.88 1.88 0 1 0 3.76 0a1.88 1.88 0 1 0 -3.76 0zM496.05 379.31a1.88 1.88 0 1 0 3.76 0a1.88 1.88 0 1 0 -3.76 0zM497.30 379.45a1.88 1.88 0 1 0 3.76 0a1.88 1.88 0 1 0 -3.76 0zM498.55 379.34a1.88 1.88 0 1 0 3.76 0a1.88 1.88 0 1 0 -3.76 0zM499.80 379.38a1.88 1.88 0 1 0 3.76 0a1.88 1.88 0 1 0 -3.76 0zM501.05 379.46a1.88 1.88 0 1 0 3.76 0a1.88 1.88 0 1 0 -3.76 0zM502.30 379.72a1.88 1.88 0 1 0 3.76 0a1.88 1.88 0 1 0 -3.76 0zM503.55 379.16a1.88 1.88 0 1 0 3.76 0a1.88 1.88 0 1 0 -3.76 0zM504.80 379.25a1.88 1.88 0 1 0 3.76 0a1.88 1.88 0 1 0 -3.76 0zM506.05 379.82a1.88 1.88 0 1 0 3.76 0a1.88 1.88 0 1 0 -3.76 0zM507.30 379.15a1.88 1.88 0 1 0 3.76 0a1.88 1.88 0 1 0 -3.76 0zM508.55 379.12a1.88 1.88 0 1 0 3.76 0a1.88 1.88 0 1 0 -3.76 0zM509.80 379.72a1.88 1.88 0 1 0 3.76 0a1.88 1.88 0 1 0 -3.76 0zM511.05 379.17a1.88 1.88 0 1 0 3.76 0a1.88 1.88 0 1 0 -3.76 0zM512.30 379.71a1.88 1.88 0 1 0 3.76 0a1.88 1.88 0 1 0 -3.76 0zM513.55 379.54a1.88 1.88 0 1 0 3.76 0a1.88 1.88 0 1 0 -3.76 0zM514.80 379.19a1.88 1.88 0 1 0 3.76 0a1.88 1.88 0 1 0 -3.76 0zM516.05 379.08a1.88 1.88 0 1 0 3.76 0a1.88 1.88 0 1 0 -3.76 0zM517.30 379.16a1.88 1.88 0 1 0 3.76 0a1.88 1.88 0 1 0 -3.76 0zM518.55 379.17a1.88 1.88 0 1 0 3.76 0a1.88 1.88 0 1 0 -3.76 0zM519.80 379.66a1.88 1.88 0 1 0 3.76 0a1.88 1.88 0 1 0 -3.76 0zM521.05 379.17a1.88 1.88 0 1 0 3.76 0a1.88 1.88 0 1 0 -3.76 0zM522.30 379.35a1.88 1.88 0 1 0 3.76 0a1.88 1.88 0 1 0 -3.76 0zM523.55 379.12a1.88 1.88 0 1 0 3.76 0a1.88 1.88 0 1 0 -3.76 0zM524.80 379.13a1.88 1.88 0 1 0 3.76 0a1.88 1.88 0 1 0 -3.76 0zM526.05 379.24a1.88 1.88 0 1 0 3.76 0a1.88 1.88 0 1 0 -3.76 0zM527.30 379.07a1.88 1.88 0 1 0 3.76 0a1.88 1.88 0 1 0 -3.76 0zM528.55 379.25a1.88 1.88 0 1 0 3.76 0a1.88 1.88 0 1 0 -3.76 0zM529.80 379.55a1.88 1.88 0 1 0 3.76 0a1.88 1.88 0 1 0 -3.76 0zM531.05 379.14a1.88 1.88 0 1 0 3.76 0a1.88 1.88 0 1 0 -3.76 0zM532.30 379.23a1.88 1.88 0 1 0 3.76 0a1.88 1.88 0 1 0 -3.76 0zM533.55 379.42a1.88 1.88 0 1 0 3.76 0a1.88 1.88 0 1 0 -3.76 0zM534.80 379.36a1.88 1.88 0 1 0 3.76 0a1.88 1.88 0 1 0 -3.76 0zM536.05 379.11a1.88 1.88 0 1 0 3.76 0a1.88 1.88 0 1 0 -3.76 0zM537.30 378.94a1.88 1.88 0 1 0 3.76 0a1.88 1.88 0 1 0 -3.76 0zM538.55 378.89a1.88 1.88 0 1 0 3.76 0a1.88 1.88 0 1 0 -3.76 0zM539.80 379.26a1.88 1.88 0 1 0 3.76 0a1.88 1.88 0 1 0 -3.76 0zM541.05 378.94a1.88 1.88 0 1 0 3.76 0a1.88 1.88 0 1 0 -3.76 0zM542.30 379.01a1.88 1.88 0 1 0 3.76 0a1.88 1.88 0 1 0 -3.76 0zM543.55 379.49a1.88 1.88 0 1 0 3.76 0a1.88 1.88 0 1 0 -3.76 0zM544.80 379.37a1.88 1.88 0 1 0 3.76 0a1.88 1.88 0 1 0 -3.76 0zM546.05 379.47a1.88 1.88 0 1 0 3.76 0a1.88 1.88 0 1 0 -3.76 0zM547.30 379.45a1.88 1.88 0 1 0 3.76 0a1.88 1.88 0 1 0 -3.76 0zM548.55 379.14a1.88 1.88 0 1 0 3.76 0a1.88 1.88 0 1 0 -3.76 0zM549.80 378.87a1.88 1.88 0 1 0 3.76 0a1.88 1.88 0 1 0 -3.76 0zM551.05 379.01a1.88 1.88 0 1 0 3.76 0a1.88 1.88 0 1 0 -3.76 0zM552.30 378.93a1.88 1.88 0 1 0 3.76 0a1.88 1.88 0 1 0 -3.76 0zM553.55 379.31a1.88 1.88 0 1 0 3.76 0a1.88 1.88 0 1 0 -3.76 0zM554.80 378.95a1.88 1.88 0 1 0 3.76 0a1.88 1.88 0 1 0 -3.76 0zM556.05 378.65a1.88 1.88 0 1 0 3.76 0a1.88 1.88 0 1 0 -3.76 0zM557.30 379.01a1.88 1.88 0 1 0 3.76 0a1.88 1.88 0 1 0 -3.76 0zM558.55 378.69a1.88 1.88 0 1 0 3.76 0a1.88 1.88 0 1 0 -3.76 0zM559.80 379.08a1.88 1.88 0 1 0 3.76 0a1.88 1.88 0 1 0 -3.76 0zM561.05 378.58a1.88 1.88 0 1 0 3.76 0a1.88 1.88 0 1 0 -3.76 0zM562.30 378.99a1.88 1.88 0 1 0 3.76 0a1.88 1.88 0 1 0 -3.76 0z"/>
<path fill="#00ff00" d="M84.20 50.55L86.58 54.73H81.82zM85.45 50.93L87.83 55.11H83.07zM86.70 51.14L89.08 55.32H84.32zM87.95 51.20L90.33 55.38H85.57zM89.20 51.35L91.58 55.53H86.82zM90.45 51.52L92.83 55.70H88.07zM91.70 51.52L94.08 55.70H89.32zM92.95 51.79L95.33 55.97H90.57zM94.20 51.91L96.58 56.09H91.82zM95.45 52.02L97.83 56.20H93.07zM96.70 52.30L99.08 56.48H94.32zM97.95 52.56L100.33 56.74H95.57zM99.20 52.78L101.58 56.96H96.82zM100.45 53.14L102.83 57.32H98.07zM101.70 53.19L104.08 57.37H99.32zM102.95 53.41L105.33 57.59H100.57zM104.20 53.57L106.58 57.75H101.82zM105.45 53.87L107.83 58.05H103.07zM106.70 54.00L109.08 58.18H104.32zM107.95 54.34L110.33 58.52H105.57zM109.20 54.61L111.58 58.79H106.82zM110.45 54.78L112.83 58.96H108.07zM111.70 54.75L114.08 58.93H109.32zM112.95 55.08L115.33 59.26H110.57zM114.20 55.34L116.58 59.52H111.82zM115.45 55.69L117.83 59.87H113.07zM116.70 55.92L119.08 60.10H114.32zM117.95 55.91L120.33 60.09H115.57zM119.20 56.29L121.58 60.47H116.82zM120.45 56.49L122.83 60.67H118.07zM121.70 56.44L124.08 60.62H119.32zM122.95 56.98L125.33 61.16H120.57zM124.20 57.27L126.58 61.45H121.82zM125.45 57.36L127.83 61.54H123.07zM126.70 57.42L129.08 61.60H124.32zM127.95 57.67L130.33 61.85H125.57zM129.20 57.99L131.58 62.17H126.82zM130.45 58.36L132.83 62.54H128.07zM131.70 58.29L134.08 62.47H129.32zM132.95 58.61L135.33 62.79H130.57zM134.20 58.96L136.58 63.14H131.82zM135.45 59.28L137.83 63.46H133.07zM136.70 59.32L139.08 63.50H134.32zM137.95 59.86L140.33 64.04H135.57zM139.20 59.85L141.58 64.03H136.82zM140.45 60.05L142.83 64.23H138.07zM141.70 60.31L144.08 64.49H139.32zM142.95 60.95L145.33 65.13H140.57zM144.20 60.92L146.58 65.10H141.82zM145.45 61.21L147.83 65.39H143.07zM146.70 61.51L149.08 65.69H144.32zM147.95 61.74L150.33 65.92H145.57zM149.20 61.96L151.58 66.14H146.82zM150.45 62.35L152.83 66.53H148.07zM151.70 62.53L154.08 66.71H149.32zM152.95 62.75L155.33 66.93H150.57zM154.20 63.12L156.58 67.30H151.82zM155.45 63.47L157.83 67.65H153.07zM156.70 63.63L159.08 67.81H154.32zM157.95 64.06L160.33 68.24H155.57zM159.20 64.25L161.58 68.43H156.82zM160.45 64.49L162.83 68.67H158.07zM161.70 64.96L164.08 69.14H159.32zM162.95 65.36L165.33 69.54H160.57zM164.20 65.52L166.58 69.70H161.82zM165.45 65.87L167.83 70.05H163.07zM166.70 66.17L169.08 70.35H164.32zM167.95 66.49L170.33 70.67H165.57zM169.20 66.69L171.58 70.87H166.82zM170.45 67.17L172.83 71.35H168.07zM171.70 67.46L174.08 71.64H169.32zM172.95 67.71L175.33 71.89H170.57zM174.20 67.86L176.58 72.04H171.82zM175.45 68.42L177.83 72.60H173.07zM176.70 68.74L179.08 72.92H174.32zM177.95 69.18L180.33 73.36H175.57zM179.20 69.49L181.58 73.67H176.82zM180.45 70.04L182.83 74.22H178.07zM181.70 70.34L184.08 74.52H179.32zM182.95 70.65L185.33 74.83H180.57zM184.20 70.96L186.58 75.14H181.82zM185.45 71.51L187.83 75.69H183.07zM186.70 71.62L189.08 75.80H184.32zM187.95 72.04L190.33 76.22H185.57zM189.20 72.79L191.58 76.97H186.82zM190.45 73.13L192.83 77.31H188.07zM191.70 73.49L194.08 77.67H189.32zM192.95 74.05L195.33 78.23H190.57zM194.20 74.65L196.58 78.83H191.82zM195.45 74.91L197.83 79.09H193.07zM196.70 75.62L199.08 79.80H194.32zM197.95 76.09L200.33 80.27H195.57zM199.20 76.30L201.58 80.48H196.82zM200.45 76.99L202.83 81.17H198.07zM201.70 77.62L204.08 81.80H199.32zM202.95 78.00L205.33 82.18H200.57zM204.20 78.43L206.58 82.61H201.82zM205.45 78.83L207.83 83.01H203.07zM206.70 79.30L209.08 83.48H204.32zM207.95 79.93L210.33 84.11H205.57zM209.20 80.66L211.58 84.84H206.82zM210.45 80.89L212.83 85.07H208.07zM211.70 81.40L214.08 85.58H209.32zM212.95 81.99L215.33 86.17H210.57zM214.20 82.58L216.58 86.76H211.82zM215.45 83.14L217.83 87.32H213.07zM216.70 83.67L219.08 87.85H214.32zM217.95 84.06L220.33 88.24H215.57zM219.20 84.49L221.58 88.67H216.82zM220.45 85.41L222.83 89.59H218.07zM221.70 85.53L224.08 89.71H219.32zM222.95 86.30L225.33 90.48H220.57zM224.20 86.77L226.58 90.95H221.82zM225.45 87.47L227.83 91.65H223.07zM226.70 87.79L229.08 91.97H224.32zM227.95 88.68L230.33 92.86H225.57zM229.20 88.83L231.58 93.01H226.82zM230.45 89.69L232.83 93.87H228.07zM231.70 90.11L234.08 94.29H229.32zM232.95 90.66L235.33 94.84H230.57zM234.20 91.44L236.58 95.62H231.82zM235.45 91.79L237.83 95.97H233.07zM236.70 92.40L239.08 96.58H234.32zM237.95 93.15L240.33 97.33H235.57zM239.20 93.79L241.58 97.97H236.82zM240.45 94.30L242.83 98.48H238.07zM241.72 94.97L244.10 99.15H239.34zM243.06 95.69L245.44 99.87H240.68zM244.46 96.47L246.84 100.65H242.08zM245.93 97.31L248.31 101.49H243.55zM247.48 98.20L249.86 102.38H245.10zM249.11 99.16L251.49 103.34H246.73zM250.81 100.21L253.19 104.39H248.43zM252.60 101.39L254.98 105.57H250.22zM254.48 102.73L256.86 106.91H252.10zM256.46 104.31L258.84 108.49H254.08zM258.53 106.27L260.91 110.45H256.15zM260.70 108.61L263.08 112.79H258.32zM262.99 111.35L265.37 115.53H260.61zM265.39 114.68L267.77 118.86H263.01zM267.84 118.89L270.22 123.07H265.46zM270.29 123.40L272.67 127.58H267.91zM272.74 127.56L275.12 131.74H270.36zM275.19 131.20L277.57 135.38H272.81zM277.64 136.37L280.02 140.55H275.26zM280.09 142.63L282.47 146.81H277.71zM282.54 148.96L284.92 153.14H280.16zM284.99 155.21L287.37 159.39H282.61zM287.44 162.13L289.82 166.31H285.06zM289.89 170.40L292.27 174.58H287.51zM292.34 179.66L294.72 183.84H289.96zM294.79 188.42L297.17 192.60H292.41zM297.24 197.37L299.62 201.55H294.86zM299.69 207.87L302.07 212.05H297.31zM302.14 218.58L304.52 222.76H299.76zM304.59 229.09L306.97 233.27H302.21zM307.04 240.48L309.42 244.66H304.66zM309.49 251.86L311.87 256.04H307.11zM311.94 262.52L314.32 266.70H309.56zM314.39 271.99L316.77 276.17H312.01zM316.84 281.14L319.22 285.32H314.46zM319.29 290.06L321.67 294.24H316.91zM321.74 300.36L324.12 304.54H319.36zM324.19 309.23L326.57 313.41H321.81zM326.64 317.02L329.02 321.20H324.26zM329.09 323.92L331.47 328.10H326.71zM331.54 330.67L333.92 334.85H329.16zM333.99 337.00L336.37 341.18H331.61zM336.44 342.27L338.82 346.45H334.06zM338.89 347.22L341.27 351.40H336.51zM341.34 351.85L343.72 356.03H338.96zM343.79 356.01L346.17 360.19H341.41zM346.24 359.82L348.62 364.00H343.86zM348.69 363.44L351.07 367.62H346.31zM351.14 366.62L353.52 370.80H348.76zM353.59 369.24L355.97 373.42H351.21zM356.04 371.51L358.42 375.69H353.66zM358.49 373.53L360.87 377.71H356.11zM360.94 375.31L363.32 379.49H358.56zM363.39 376.87L365.77 381.05H361.01zM365.84 378.22L368.22 382.40H363.46zM368.24 379.42L370.62 383.60H365.86zM370.49 380.29L372.87 384.47H368.11zM372.61 380.97L374.99 385.15H370.23zM374.61 381.57L376.99 385.75H372.23zM376.48 382.03L378.86 386.21H374.10zM378.24 382.39L380.62 386.57H375.86zM379.90 382.68L382.28 386.86H377.52zM381.45 382.94L383.83 387.12H379.07zM382.92 383.17L385.30 387.35H380.54zM384.29 383.37L386.67 387.55H381.91zM385.58 383.56L387.96 387.74H383.20zM386.83 383.74L389.21 387.92H384.45zM388.08 383.92L390.46 388.10H385.70zM389.33 384.09L391.71 388.27H386.95zM390.58 384.26L392.96 388.44H388.20zM391.83 384.42L394.21 388.60H389.45zM393.08 384.57L395.46 388.75H390.70zM394.33 384.72L396.71 388.90H391.95zM395.58 385.11L397.96 389.29H393.20zM396.83 384.65L399.21 388.83H394.45zM398.08 385.41L400.46 389.59H395.70zM399.33 385.07L401.71 389.25H396.95zM400.58 385.25L402.96 389.43H398.20zM401.83 385.63L404.21 389.81H399.45zM403.08 385.76L405.46 389.94H400.70zM404.33 385.41L406.71 389.59H401.95zM405.58 386.07L407.96 390.25H403.20zM406.83 385.94L409.21 390.12H404.45zM408.08 385.63L410.46 389.81H405.70zM409.33 386.00L411.71 390.18H406.95zM410.58 386.47L412.96 390.65H408.20zM411.83 386.06L414.21 390.24H409.45zM413.08 386.28L415.46 390.46H410.70zM414.33 386.49L416.71 390.67H411.95zM415.58 386.28L417.96 390.46H413.20zM416.83 386.69L419.21 390.87H414.45zM418.08 386.94L420.46 391.12H415.70zM419.33 386.87L421.71 391.05H416.95zM420.58 386.87L422.96 391.05H418.20zM421.83 387.19L424.21 391.37H419.45zM423.08 387.10L425.46 391.28H420.70zM424.33 387.12L426.71 391.30H421.95zM425.58 387.19L427.96 391.37H423.20zM426.83 387.39L429.21 391.57H424.45zM428.08 386.95L430.46 391.13H425.70zM429.33 387.20L431.71 391.38H426.95zM430.58 387.26L432.96 391.44H428.20zM431.83 387.09L434.21 391.27H429.45zM433.08 387.61L435.46 391.79H430.70zM434.33 387.28L436.71 391.46H431.95zM435.58 387.25L437.96 391.43H433.20zM436.83 387.61L439.21 391.79H434.45zM438.08 387.22L440.46 391.40H435.70zM439.33 387.80L441.71 391.98H436.95zM440.58 387.21L442.96 391.39H438.20zM441.83 387.84L444.21 392.02H439.45zM443.08 387.67L445.46 391.85H440.70zM444.33 387.64L446.71 391.82H441.95zM445.58 387.93L447.96 392.11H443.20zM446.83 387.97L449.21 392.15H444.45zM448.08 387.95L450.46 392.13H445.70zM449.33 387.99L451.71 392.17H446.95zM450.58 387.98L452.96 392.16H448.20zM451.83 387.98L454.21 392.16H449.45zM453.08 387.57L455.46 391.75H450.70zM454.33 387.55L456.71 391.73H451.95zM455.58 387.64L457.96 391.82H453.20zM456.83 387.82L459.21 392.00H454.45zM458.08 388.30L460.46 392.48H455.70zM459.33 387.88L461.71 392.06H456.95zM460.58 387.74L462.96 391.92H458.20zM461.83 388.25L464.21 392.43H459.45zM463.08 388.09L465.46 392.27H460.70zM464.33 387.94L466.71 392.12H461.95zM465.58 388.05L467.96 392.23H463.20zM466.83 387.96L469.21 392.14H464.45zM468.08 388.35L470.46 392.53H465.70zM469.33 388.17L471.71 392.35H466.95zM470.58 388.26L472.96 392.44H468.20zM471.83 388.03L474.21 392.21H469.45zM473.08 388.14L475.46 392.32H470.70zM474.33 388.14L476.71 392.32H471.95zM475.58 388.04L477.96 392.22H473.20zM476.83 388.03L479.21 392.21H474.45zM478.08 387.94L480.46 392.12H475.70zM479.33 387.99L481.71 392.17H476.95zM480.58 388.31L482.96 392.49H478.20zM481.83 388.02L484.21 392.20H479.45zM483.08 388.43L485.46 392.61H480.70zM484.33 388.12L486.71 392.30H481.95zM485.58 388.05L487.96 392.23H483.20zM486.83 388.30L489.21 392.48H484.45zM488.08 388.47L490.46 392.65H485.70zM489.33 388.64L491.71 392.82H486.95zM490.58 388.66L492.96 392.84H488.20zM491.83 388.51L494.21 392.69H489.45zM493.08 388.39L495.46 392.57H490.70zM494.33 388.30L496.71 392.48H491.95zM495.58 388.54L497.96 392.72H493.20zM496.83 388.23L499.21 392.41H494.45zM498.08 388.68L500.46 392.86H495.70zM499.33 388.48L501.71 392.66H496.95zM500.58 388.79L502.96 392.97H498.20zM501.83 388.20L504.21 392.38H499.45zM503.08 388.25L505.46 392.43H500.70zM504.33 388.21L506.71 392.39H501.95zM505.58 388.65L507.96 392.83H503.20zM506.83 388.59L509.21 392.77H504.45zM508.08 388.20L510.46 392.38H505.70zM509.33 388.58L511.71 392.76H506.95zM510.58 388.36L512.96 392.54H508.20zM511.83 388.47L514.21 392.65H509.45zM513.08 388.56L515.46 392.74H510.70zM514.33 388.36L516.71 392.54H511.95zM515.58 388.65L517.96 392.83H513.20zM516.83 388.81L519.21 392.99H514.45zM518.08 388.29L520.46 392.47H515.70zM519.33 388.87L521.71 393.05H516.95zM520.58 388.56L522.96 392.74H518.20zM521.83 388.61L524.21 392.79H519.45zM523.08 388.73L525.46 392.91H520.70zM524.33 388.71L526.71 392.89H521.95zM525.58 388.40L527.96 392.58H523.20zM526.83 388.70L529.21 392.88H524.45zM528.08 388.55L530.46 392.73H525.70zM529.33 388.69L531.71 392.87H526.95zM530.58 388.64L532.96 392.82H528.20zM531.83 388.67L534.21 392.85H529.45zM533.08 388.73L535.46 392.91H530.70zM534.33 388.93L536.71 393.11H531.95zM535.58 388.49L537.96 392.67H533.20zM536.83 388.96L539.21 393.14H534.45zM538.08 388.31L540.46 392.49H535.70zM539.33 388.68L541.71 392.86H536.95zM540.58 388.65L542.96 392.83H538.20zM541.83 388.83L544.21 393.01H539.45zM543.08 388.42L545.46 392.60H540.70zM544.33 389.00L546.71 393.18H541.95zM545.58 388.89L547.96 393.07H543.20zM546.83 388.91L549.21 393.09H544.45zM548.08 388.91L550.46 393.09H545.70zM549.33 388.78L551.71 392.96H546.95zM550.58 388.34L552.96 392.52H548.20zM551.83 388.92L554.21 393.10H549.45zM553.08 388.94L555.46 393.12H550.70zM554.33 388.81L556.71 392.99H551.95zM555.58 388.99L557.96 393.17H553.20zM556.83 388.55L559.21 392.73H554.45zM558.08 388.41L560.46 392.59H555.70zM559.33 388.80L561.71 392.98H556.95zM560.58 388.93L562.96 393.11H558.20zM561.83 388.55L564.21 392.73H559.45zM563.08 388.42L565.46 392.60H560.70zM564.33 388.71L566.71 392.89H561.95zM565.58 388.52L567.96 392.70H563.20z"/>
<path fill="#0000ff" d="M84.20 153.16L86.40 149.26H82.00zM85.45 153.53L87.65 149.64H83.25zM86.70 153.54L88.90 149.64H84.50zM87.95 153.72L90.15 149.83H85.75zM89.20 153.47L91.40 149.58H87.00zM90.45 153.54L92.65 149.64H88.25zM91.70 153.98L93.90 150.08H89.50zM92.95 153.71L95.15 149.82H90.75zM94.20 153.82L96.40 149.93H92.00zM95.45 154.14L97.65 150.25H93.25zM96.70 154.05L98.90 150.16H94.50zM97.95 154.30L100.15 150.40H95.75zM99.20 154.55L101.40 150.65H97.00zM100.45 154.56L102.65 150.67H98.25zM101.70 154.52L103.90 150.62H99.50zM102.95 154.71L105.15 150.82H100.75zM104.20 154.96L106.40 151.06H102.00zM105.45 154.92L107.65 151.03H103.25zM106.70 155.16L108.90 151.27H104.50zM107.95 155.59L110.15 151.69H105.75zM109.20 155.44L111.40 151.54H107.00zM110.45 155.58L112.65 151.68H108.25zM111.70 155.78L113.90 151.89H109.50zM112.95 156.12L115.15 152.22H110.75zM114.20 156.13L116.40 152.23H112.00zM115.45 156.18L117.65 152.28H113.25zM116.70 156.37L118.90 152.47H114.50zM117.95 156.80L120.15 152.91H115.75zM119.20 156.61L121.40 152.72H117.00zM120.45 156.80L122.65 152.91H118.25zM121.70 157.16L123.90 153.27H119.50zM122.95 157.19L125.15 153.30H120.75zM124.20 157.39L126.40 153.50H122.00zM125.45 157.66L127.65 153.76H123.25zM126.70 157.57L128.90 153.67H124.50zM127.95 157.80L130.15 153.91H125.75zM129.20 158.10L131.40 154.21H127.00zM130.45 158.08L132.65 154.18H128.25zM131.70 158.27L133.90 154.37H129.50zM132.95 158.45L135.15 154.55H130.75zM134.20 158.74L136.40 154.85H132.00zM135.45 159.19L137.65 155.30H133.25zM136.70 159.35L138.90 155.46H134.50zM137.95 159.51L140.15 155.62H135.75zM139.20 159.59L141.40 155.70H137.00zM140.45 159.98L142.65 156.08H138.25zM141.70 159.93L143.90 156.03H139.50zM142.95 160.06L145.15 156.16H140.75zM144.20 160.31L146.40 156.41H142.00zM145.45 160.68L147.65 156.79H143.25zM146.70 160.82L148.90 156.93H144.50zM147.95 161.05L150.15 157.16H145.75zM149.20 161.16L151.40 157.26H147.00zM150.45 161.65L152.65 157.75H148.25zM151.70 161.95L153.90 158.05H149.50zM152.95 162.06L155.15 158.16H150.75zM154.20 162.20L156.40 158.30H152.00zM155.45 162.47L157.65 158.57H153.25zM156.70 162.97L158.90 159.07H154.50zM157.95 163.05L160.15 159.15H155.75zM159.20 163.32L161.40 159.43H157.00zM160.45 163.75L162.65 159.86H158.25zM161.70 164.07L163.90 160.18H159.50zM162.95 164.29L165.15 160.40H160.75zM164.20 164.41L166.40 160.52H162.00zM165.45 164.70L167.65 160.81H163.25zM166.70 165.04L168.90 161.15H164.50zM167.95 165.29L170.15 161.40H165.75zM169.20 165.76L171.40 161.86H167.00zM170.45 166.03L172.65 162.14H168.25zM171.70 166.00L173.90 162.10H169.50zM172.95 166.40L175.15 162.51H170.75zM174.20 166.75L176.40 162.86H172.00zM175.45 167.16L177.65 163.27H173.25zM176.70 167.46L178.90 163.56H174.50zM177.95 167.72L180.15 163.82H175.75zM179.20 167.96L181.40 164.07H177.00zM180.45 168.15L182.65 164.25H178.25zM181.70 168.49L183.90 164.60H179.50zM182.95 169.19L185.15 165.29H180.75zM184.20 169.31L186.40 165.41H182.00zM185.45 169.80L187.65 165.90H183.25zM186.70 170.39L188.90 166.49H184.50zM187.95 170.63L190.15 166.73H185.75zM189.20 171.09L191.40 167.19H187.00zM190.45 171.27L192.65 167.38H188.25zM191.70 171.87L193.90 167.97H189.50zM192.95 172.29L195.15 168.39H190.75zM194.20 172.62L196.40 168.73H192.00zM195.45 173.14L197.65 169.25H193.25zM196.70 173.35L198.90 169.45H194.50zM197.95 173.68L200.15 169.79H195.75zM199.20 174.15L201.40 170.25H197.00zM200.45 174.63L202.65 170.73H198.25zM201.70 174.88L203.90 170.99H199.50zM202.95 175.35L205.15 171.45H200.75zM204.20 175.85L206.40 171.95H202.00zM205.45 176.21L207.65 172.32H203.25zM206.70 176.74L208.90 172.84H204.50zM207.95 177.11L210.15 173.21H205.75zM209.20 177.37L211.40 173.47H207.00zM210.45 178.10L212.65 174.21H208.25zM211.70 178.54L213.90 174.64H209.50zM212.95 178.87L215.15 174.97H210.75zM214.20 179.38L216.40 175.49H212.00zM215.45 179.86L217.65 175.97H213.25zM216.70 180.34L218.90 176.45H214.50zM217.95 180.80L220.15 176.90H215.75zM219.20 181.48L221.40 177.58H217.00zM220.45 181.98L222.65 178.09H218.25zM221.70 182.73L223.90 178.83H219.50zM222.95 183.32L225.15 179.43H220.75zM224.20 184.29L226.40 180.40H222.00zM225.45 185.04L227.65 181.14H223.25zM226.70 185.78L228.90 181.89H224.50zM227.95 186.57L230.15 182.68H225.75zM229.20 187.15L231.40 183.26H227.00zM230.45 188.00L232.65 184.11H228.25zM231.72 188.89L233.92 185.00H229.52zM233.05 189.87L235.25 185.97H230.85zM234.44 190.94L236.64 187.05H232.24zM235.90 192.13L238.10 188.24H233.70zM237.42 193.51L239.62 189.62H235.22zM239.01 195.12L241.21 191.23H236.81zM240.68 196.91L242.88 193.01H238.48zM242.42 198.84L244.62 194.95H240.22zM244.24 201.00L246.44 197.11H242.04zM246.15 203.45L248.35 199.56H243.95zM248.14 206.32L250.34 202.43H245.94zM250.23 209.57L252.43 205.68H248.03zM252.42 213.03L254.62 209.14H250.22zM254.70 217.35L256.90 213.45H252.50zM257.09 222.74L259.29 218.85H254.89zM259.54 226.85L261.74 222.95H257.34zM261.99 232.30L264.19 228.40H259.79zM264.44 237.82L266.64 233.92H262.24zM266.89 243.66L269.09 239.76H264.69zM269.34 249.84L271.54 245.94H267.14zM271.79 256.65L273.99 252.76H269.59zM274.24 263.50L276.44 259.60H272.04zM276.69 270.41L278.89 266.52H274.49zM279.14 277.16L281.34 273.27H276.94zM281.59 284.56L283.79 280.66H279.39zM284.04 292.25L286.24 288.36H281.84zM286.49 299.64L288.69 295.75H284.29zM288.94 307.23L291.14 303.34H286.74zM291.39 314.28L293.59 310.39H289.19zM293.84 320.78L296.04 316.89H291.64zM296.29 327.10L298.49 323.21H294.09zM298.74 333.04L300.94 329.15H296.54zM301.19 338.53L303.39 334.64H298.99zM303.64 343.54L305.84 339.65H301.44zM306.09 348.17L308.29 344.28H303.89zM308.54 352.19L310.74 348.29H306.34zM310.99 355.84L313.19 351.94H308.79zM313.44 359.28L315.64 355.38H311.24zM315.89 362.33L318.09 358.44H313.69zM318.34 364.94L320.54 361.04H316.14zM320.79 367.33L322.99 363.43H318.59zM323.24 369.65L325.44 365.75H321.04zM325.69 371.74L327.89 367.85H323.49zM328.14 373.76L330.34 369.87H325.94zM330.59 375.48L332.79 371.58H328.39zM333.04 376.96L335.24 373.07H330.84zM335.49 378.31L337.69 374.42H333.29zM337.94 379.58L340.14 375.68H335.74zM340.39 380.73L342.59 376.83H338.19zM342.84 381.75L345.04 377.86H340.64zM345.29 382.67L347.49 378.77H343.09zM347.74 383.48L349.94 379.59H345.54zM350.19 384.20L352.39 380.31H347.99zM352.64 384.86L354.84 380.97H350.44zM355.09 385.49L357.29 381.60H352.89zM357.54 386.07L359.74 382.18H355.34zM359.99 386.56L362.19 382.66H357.79zM362.44 386.98L364.64 383.08H360.24zM364.89 387.33L367.09 383.43H362.69zM367.34 387.63L369.54 383.73H365.14zM369.65 387.88L371.85 383.99H367.45zM371.82 388.09L374.02 384.19H369.62zM373.86 388.25L376.06 384.35H371.66zM375.78 388.37L377.98 384.48H373.58zM377.58 388.48L379.78 384.59H375.38zM379.28 388.58L381.48 384.68H377.08zM380.87 388.67L383.07 384.77H378.67zM382.37 388.74L384.57 384.85H380.17zM383.78 388.81L385.98 384.91H381.58zM385.10 388.87L387.30 384.98H382.90zM386.35 388.93L388.55 385.03H384.15zM387.60 388.98L389.80 385.08H385.40zM388.85 389.03L391.05 385.14H386.65zM390.10 389.08L392.30 385.19H387.90zM391.35 389.13L393.55 385.24H389.15zM392.60 389.18L394.80 385.28H390.40zM393.85 389.23L396.05 385.33H391.65zM395.10 389.47L397.30 385.57H392.90zM396.35 389.56L398.55 385.67H394.15zM397.60 389.35L399.80 385.46H395.40zM398.85 389.46L401.05 385.57H396.65zM400.10 389.23L402.30 385.34H397.90zM401.35 389.46L403.55 385.56H399.15zM402.60 389.44L404.80 385.54H400.40zM403.85 389.48L406.05 385.58H401.65zM405.10 389.95L407.30 386.05H402.90zM406.35 389.77L408.55 385.88H404.15zM407.60 389.65L409.80 385.75H405.40zM408.85 389.66L411.05 385.76H406.65zM410.10 389.72L412.30 385.82H407.90zM411.35 390.16L413.55 386.27H409.15zM412.60 390.02L414.80 386.12H410.40zM413.85 389.64L416.05 385.74H411.65zM415.10 389.67L417.30 385.77H412.90zM416.35 389.71L418.55 385.82H414.15zM417.60 390.04L419.80 386.15H415.40zM418.85 390.00L421.05 386.11H416.65zM420.10 390.39L422.30 386.50H417.90zM421.35 390.44L423.55 386.54H419.15zM422.60 390.28L424.80 386.38H420.40zM423.85 390.43L426.05 386.53H421.65zM425.10 390.52L427.30 386.62H422.90zM426.35 390.27L428.55 386.38H424.15zM427.60 390.56L429.80 386.66H425.40zM428.85 390.07L431.05 386.17H426.65zM430.10 390.22L432.30 386.32H427.90zM431.35 390.69L433.55 386.80H429.15zM432.60 390.31L434.80 386.42H430.40zM433.85 390.22L436.05 386.32H431.65zM435.10 390.56L437.30 386.67H432.90zM436.35 390.24L438.55 386.35H434.15zM437.60 390.64L439.80 386.74H435.40zM438.85 390.31L441.05 386.41H436.65zM440.10 390.87L442.30 386.98H437.90zM441.35 390.73L443.55 386.83H439.15zM442.60 390.66L444.80 386.77H440.40zM443.85 390.89L446.05 386.99H441.65zM445.10 390.67L447.30 386.77H442.90zM446.35 391.06L448.55 387.16H444.15zM447.60 390.60L449.80 386.70H445.40zM448.85 391.19L451.05 387.29H446.65zM450.10 390.68L452.30 386.79H447.90zM451.35 390.58L453.55 386.69H449.15zM452.60 391.20L454.80 387.30H450.40zM453.85 391.16L456.05 387.27H451.65zM455.10 390.88L457.30 386.98H452.90zM456.35 391.13L458.55 387.24H454.15zM457.60 390.71L459.80 386.82H455.40zM458.85 391.38L461.05 387.49H456.65zM460.10 390.93L462.30 387.04H457.90zM461.35 391.18L463.55 387.28H459.15zM462.60 391.30L464.80 387.40H460.40zM463.85 390.95L466.05 387.06H461.65zM465.10 391.03L467.30 387.14H462.90zM466.35 391.40L468.55 387.50H464.15zM467.60 391.17L469.80 387.28H465.40zM468.85 391.14L471.05 387.24H466.65zM470.10 391.51L472.30 387.62H467.90zM471.35 391.46L473.55 387.56H469.15zM472.60 391.32L474.80 387.43H470.40zM473.85 391.00L476.05 387.11H471.65zM475.10 391.44L477.30 387.55H472.90zM476.35 391.36L478.55 387.46H474.15zM477.60 391.48L479.80 387.58H475.40zM478.85 391.55L481.05 387.66H476.65zM480.10 391.39L482.30 387.49H477.90zM481.35 391.59L483.55 387.70H479.15zM482.60 391.08L484.80 387.18H480.40zM483.85 391.43L486.05 387.53H481.65zM485.10 391.45L487.30 387.55H482.90zM486.35 391.14L488.55 387.25H484.15zM487.60 391.15L489.80 387.25H485.40zM488.85 391.51L491.05 387.62H486.65zM490.10 391.06L492.30 387.17H487.90zM491.35 391.07L493.55 387.18H489.15zM492.60 391.02L494.80 387.12H490.40zM493.85 391.47L496.05 387.58H491.65zM495.10 391.09L497.30 387.19H492.90zM496.35 391.25L498.55 387.35H494.15zM497.60 391.01L499.80 387.12H495.40zM498.85 391.58L501.05 387.68H496.65zM500.10 391.24L502.30 387.34H497.90zM501.35 391.25L503.55 387.36H499.15zM502.60 390.97L504.80 387.07H500.40zM503.85 391.32L506.05 387.43H501.65zM505.10 391.38L507.30 387.48H502.90zM506.35 391.27L508.55 387.38H504.15zM507.60 391.04L509.80 387.15H505.40zM508.85 391.48L511.05 387.59H506.65zM510.10 390.88L512.30 386.98H507.90zM511.35 391.04L513.55 387.14H509.15zM512.60 391.30L514.80 387.41H510.40zM513.85 391.06L516.05 387.17H511.65zM515.10 390.95L517.30 387.06H512.90zM516.35 390.97L518.55 387.07H514.15zM517.60 391.11L519.80 387.21H515.40zM518.85 391.23L521.05 387.33H516.65zM520.10 391.04L522.30 387.15H517.90zM521.35 391.23L523.55 387.33H519.15zM522.60 390.79L524.80 386.90H520.40zM523.85 390.85L526.05 386.95H521.65zM525.10 391.25L527.30 387.35H522.90zM526.35 390.99L528.55 387.10H524.15zM527.60 390.84L529.80 386.94H525.40zM528.85 391.17L531.05 387.27H526.65zM530.10 390.59L532.30 386.69H527.90zM531.35 391.15L533.55 387.25H529.15zM532.60 390.87L534.80 386.98H530.40zM533.85 390.98L536.05 387.09H531.65zM535.10 390.66L537.30 386.77H532.90zM536.35 390.45L538.55 386.56H534.15zM537.60 390.43L539.80 386.53H535.40zM538.85 390.61L541.05 386.71H536.65zM540.10 390.99L542.30 387.10H537.90zM541.35 390.99L543.55 387.10H539.15zM542.60 390.45L544.80 386.56H540.40zM543.85 390.41L546.05 386.51H541.65zM545.10 390.77L547.30 386.87H542.90zM546.35 390.78L548.55 386.89H544.15zM547.60 390.20L549.80 386.31H545.40zM548.85 390.61L551.05 386.71H546.65zM550.10 390.63L552.30 386.74H547.90zM551.35 390.52L553.55 386.63H549.15zM552.60 390.66L554.80 386.76H550.40zM553.85 390.12L556.05 386.22H551.65zM555.10 390.28L557.30 386.38H552.90zM556.35 390.59L558.55 386.69H554.15zM557.60 390.06L559.80 386.17H555.40zM558.85 390.46L561.05 386.56H556.65zM560.10 390.37L562.30 386.47H557.90zM561.35 390.03L563.55 386.13H559.15zM562.60 390.41L564.80 386.52H560.40zM563.85 389.98L566.05 386.09H561.65z"/>
<path fill="#00ffff" d="M84.20 191.43L86.48 193.71L84.20 195.99L81.92 193.71zM85.45 191.82L87.73 194.10L85.45 196.38L83.17 194.10zM86.70 191.84L88.98 194.12L86.70 196.40L84.42 194.12zM87.95 192.03L90.23 194.31L87.95 196.59L85.67 194.31zM89.20 191.79L91.48 194.07L89.20 196.35L86.92 194.07zM90.45 191.87L92.73 194.15L90.45 196.43L88.17 194.15zM91.70 192.31L93.98 194.59L91.70 196.87L89.42 194.59zM92.95 192.05L95.23 194.33L92.95 196.61L90.67 194.33zM94.20 192.17L96.48 194.45L94.20 196.73L91.92 194.45zM95.45 192.48L97.73 194.76L95.45 197.04L93.17 194.76zM96.70 192.40L98.98 194.68L96.70 196.96L94.42 194.68zM97.95 192.64L100.23 194.92L97.95 197.20L95.67 194.92zM99.20 192.88L101.48 195.16L99.20 197.44L96.92 195.16zM100.45 192.90L102.73 195.18L100.45 197.46L98.17 195.18zM101.70 192.84L103.98 195.12L101.70 197.40L99.42 195.12zM102.95 193.03L105.23 195.31L102.95 197.59L100.67 195.31zM104.20 193.26L106.48 195.54L104.20 197.82L101.92 195.54zM105.45 193.22L107.73 195.50L105.45 197.78L103.17 195.50zM106.70 193.45L108.98 195.73L106.70 198.01L104.42 195.73zM107.95 193.86L110.23 196.14L107.95 198.42L105.67 196.14zM109.20 193.69L111.48 195.97L109.20 198.25L106.92 195.97zM110.45 193.82L112.73 196.10L110.45 198.38L108.17 196.10zM111.70 194.01L113.98 196.29L111.70 198.57L109.42 196.29zM112.95 194.32L115.23 196.60L112.95 198.88L110.67 196.60zM114.20 194.31L116.48 196.59L114.20 198.87L111.92 196.59zM115.45 194.34L117.73 196.62L115.45 198.90L113.17 196.62zM116.70 194.51L118.98 196.79L116.70 199.07L114.42 196.79zM117.95 194.92L120.23 197.20L117.95 199.48L115.67 197.20zM119.20 194.71L121.48 196.99L119.20 199.27L116.92 196.99zM120.45 194.87L122.73 197.15L120.45 199.43L118.17 197.15zM121.70 195.21L123.98 197.49L121.70 199.77L119.42 197.49zM122.95 195.21L125.23 197.49L122.95 199.77L120.67 197.49zM124.20 195.39L126.48 197.67L124.20 199.95L121.92 197.67zM125.45 195.62L127.73 197.90L125.45 200.18L123.17 197.90zM126.70 195.51L128.98 197.79L126.70 200.07L124.42 197.79zM127.95 195.71L130.23 197.99L127.95 200.27L125.67 197.99zM129.20 195.98L131.48 198.26L129.20 200.54L126.92 198.26zM130.45 195.93L132.73 198.21L130.45 200.49L128.17 198.21zM131.70 196.09L133.98 198.37L131.70 200.65L129.42 198.37zM132.95 196.23L135.23 198.51L132.95 200.79L130.67 198.51zM134.20 196.49L136.48 198.77L134.20 201.05L131.92 198.77zM135.45 196.90L137.73 199.18L135.45 201.46L133.17 199.18zM136.70 197.03L138.98 199.31L136.70 201.59L134.42 199.31zM137.95 197.15L140.23 199.43L137.95 201.71L135.67 199.43zM139.20 197.19L141.48 199.47L139.20 201.75L136.92 199.47zM140.45 197.53L142.73 199.81L140.45 202.09L138.17 199.81zM141.70 197.43L143.98 199.71L141.70 201.99L139.42 199.71zM142.95 197.51L145.23 199.79L142.95 202.07L140.67 199.79zM144.20 197.71L146.48 199.99L144.20 202.27L141.92 199.99zM145.45 198.04L147.73 200.32L145.45 202.60L143.17 200.32zM146.70 198.12L148.98 200.40L146.70 202.68L144.42 200.40zM147.95 198.30L150.23 200.58L147.95 202.86L145.67 200.58zM149.20 198.34L151.48 200.62L149.20 202.90L146.92 200.62zM150.45 198.77L152.73 201.05L150.45 203.33L148.17 201.05zM151.70 199.01L153.98 201.29L151.70 203.57L149.42 201.29zM152.95 199.05L155.23 201.33L152.95 203.61L150.67 201.33zM154.20 199.13L156.48 201.41L154.20 203.69L151.92 201.41zM155.45 199.33L157.73 201.61L155.45 203.89L153.17 201.61zM156.70 199.75L158.98 202.03L156.70 204.31L154.42 202.03zM157.95 199.76L160.23 202.04L157.95 204.32L155.67 202.04zM159.20 199.95L161.48 202.23L159.20 204.51L156.92 202.23zM160.45 200.30L162.73 202.58L160.45 204.86L158.17 202.58zM161.70 200.53L163.98 202.81L161.70 205.09L159.42 202.81zM162.95 200.66L165.23 202.94L162.95 205.22L160.67 202.94zM164.20 200.69L166.48 202.97L164.20 205.25L161.92 202.97zM165.45 200.88L167.73 203.16L165.45 205.44L163.17 203.16zM166.70 201.12L168.98 203.40L166.70 205.68L164.42 203.40zM167.95 201.27L170.23 203.55L167.95 205.83L165.67 203.55zM169.20 201.63L171.48 203.91L169.20 206.19L166.92 203.91zM170.45 201.80L172.73 204.08L170.45 206.36L168.17 204.08zM171.70 201.67L173.98 203.95L171.70 206.23L169.42 203.95zM172.95 201.98L175.23 204.26L172.95 206.54L170.67 204.26zM174.20 202.23L176.48 204.51L174.20 206.79L171.92 204.51zM175.45 202.55L177.73 204.83L175.45 207.11L173.17 204.83zM176.70 202.76L178.98 205.04L176.70 207.32L174.42 205.04zM177.95 202.93L180.23 205.21L177.95 207.49L175.67 205.21zM179.20 203.10L181.48 205.38L179.20 207.66L176.92 205.38zM180.45 203.21L182.73 205.49L180.45 207.77L178.17 205.49zM181.70 203.48L183.98 205.76L181.70 208.04L179.42 205.76zM182.95 204.10L185.23 206.38L182.95 208.66L180.67 206.38zM184.20 204.15L186.48 206.43L184.20 208.71L181.92 206.43zM185.45 204.56L187.73 206.84L185.45 209.12L183.17 206.84zM186.70 205.08L188.98 207.36L186.70 209.64L184.42 207.36zM187.95 205.23L190.23 207.51L187.95 209.79L185.67 207.51zM189.20 205.59L191.48 207.87L189.20 210.15L186.92 207.87zM190.45 205.67L192.73 207.95L190.45 210.23L188.17 207.95zM191.70 206.14L193.98 208.42L191.70 210.70L189.42 208.42zM192.95 206.45L195.23 208.73L192.95 211.01L190.67 208.73zM194.20 206.67L196.48 208.95L194.20 211.23L191.92 208.95zM195.45 207.09L197.73 209.37L195.45 211.65L193.17 209.37zM196.70 207.21L198.98 209.49L196.70 211.77L194.42 209.49zM197.95 207.47L200.23 209.75L197.95 212.03L195.67 209.75zM199.20 207.87L201.48 210.15L199.20 212.43L196.92 210.15zM200.45 208.29L202.73 210.57L200.45 212.85L198.17 210.57zM201.70 208.49L203.98 210.77L201.70 213.05L199.42 210.77zM202.95 208.91L205.23 211.19L202.95 213.47L200.67 211.19zM204.20 209.35L206.48 211.63L204.20 213.91L201.92 211.63zM205.45 209.65L207.73 211.93L205.45 214.21L203.17 211.93zM206.70 210.09L208.98 212.37L206.70 214.65L204.42 212.37zM207.95 210.39L210.23 212.67L207.95 214.95L205.67 212.67zM209.20 210.56L211.48 212.84L209.20 215.12L206.92 212.84zM210.45 211.19L212.73 213.47L210.45 215.75L208.17 213.47zM211.70 211.51L213.98 213.79L211.70 216.07L209.42 213.79zM212.95 211.70L215.23 213.98L212.95 216.26L210.67 213.98zM214.20 212.06L216.48 214.34L214.20 216.62L211.92 214.34zM215.45 212.37L217.73 214.65L215.45 216.93L213.17 214.65zM216.70 212.66L218.98 214.94L216.70 217.22L214.42 214.94zM217.95 212.92L220.23 215.20L217.95 217.48L215.67 215.20zM219.20 213.40L221.48 215.68L219.20 217.96L216.92 215.68zM220.45 213.71L222.73 215.99L220.45 218.27L218.17 215.99zM221.70 214.25L223.98 216.53L221.70 218.81L219.42 216.53zM222.95 214.63L225.23 216.91L222.95 219.19L220.67 216.91zM224.20 215.38L226.48 217.66L224.20 219.94L221.92 217.66zM225.45 215.89L227.73 218.17L225.45 220.45L223.17 218.17zM226.70 216.40L228.98 218.68L226.70 220.96L224.42 218.68zM227.95 216.95L230.23 219.23L227.95 221.51L225.67 219.23zM229.20 217.28L231.48 219.56L229.20 221.84L226.92 219.56zM230.45 217.85L232.73 220.13L230.45 222.41L228.17 220.13zM231.70 218.67L233.98 220.95L231.70 223.23L229.42 220.95zM232.95 219.00L235.23 221.28L232.95 223.56L230.67 221.28zM234.20 219.75L236.48 222.03L234.20 224.31L231.92 222.03zM235.45 220.32L237.73 222.60L235.45 224.88L233.17 222.60zM236.70 221.16L238.98 223.44L236.70 225.72L234.42 223.44zM237.99 221.93L240.27 224.21L237.99 226.49L235.71 224.21zM239.35 222.79L241.63 225.07L239.35 227.35L237.07 225.07zM240.78 223.73L243.06 226.01L240.78 228.29L238.50 226.01zM242.29 224.78L244.57 227.06L242.29 229.34L240.01 227.06zM243.88 225.94L246.16 228.22L243.88 230.50L241.60 228.22zM245.56 227.24L247.84 229.52L245.56 231.80L243.28 229.52zM247.33 228.72L249.61 231.00L247.33 233.28L245.05 231.00zM249.20 230.39L251.48 232.67L249.20 234.95L246.92 232.67zM251.17 232.29L253.45 234.57L251.17 236.85L248.89 234.57zM253.25 234.60L255.53 236.88L253.25 239.16L250.97 236.88zM255.44 237.37L257.72 239.65L255.44 241.93L253.16 239.65zM257.75 240.51L260.03 242.79L257.75 245.07L255.47 242.79zM260.19 244.18L262.47 246.46L260.19 248.74L257.91 246.46zM262.64 248.15L264.92 250.43L262.64 252.71L260.36 250.43zM265.09 252.42L267.37 254.70L265.09 256.98L262.81 254.70zM267.54 257.12L269.82 259.40L267.54 261.68L265.26 259.40zM269.99 262.60L272.27 264.88L269.99 267.16L267.71 264.88zM272.44 268.47L274.72 270.75L272.44 273.03L270.16 270.75zM274.89 274.54L277.17 276.82L274.89 279.10L272.61 276.82zM277.34 281.49L279.62 283.77L277.34 286.05L275.06 283.77zM279.79 288.42L282.07 290.70L279.79 292.98L277.51 290.70zM282.24 295.73L284.52 298.01L282.24 300.29L279.96 298.01zM284.69 303.07L286.97 305.35L284.69 307.63L282.41 305.35zM287.14 310.33L289.42 312.61L287.14 314.89L284.86 312.61zM289.59 317.65L291.87 319.93L289.59 322.21L287.31 319.93zM292.04 324.62L294.32 326.90L292.04 329.18L289.76 326.90zM294.49 330.97L296.77 333.25L294.49 335.53L292.21 333.25zM296.94 336.26L299.22 338.54L296.94 340.82L294.66 338.54zM299.39 341.26L301.67 343.54L299.39 345.82L297.11 343.54zM301.84 345.64L304.12 347.92L301.84 350.20L299.56 347.92zM304.29 349.93L306.57 352.21L304.29 354.49L302.01 352.21zM306.74 353.64L309.02 355.92L306.74 358.20L304.46 355.92zM309.19 357.01L311.47 359.29L309.19 361.57L306.91 359.29zM311.64 360.30L313.92 362.58L311.64 364.86L309.36 362.58zM314.09 363.27L316.37 365.55L314.09 367.83L311.81 365.55zM316.54 365.93L318.82 368.21L316.54 370.49L314.26 368.21zM318.99 368.40L321.27 370.68L318.99 372.96L316.71 370.68zM321.44 370.76L323.72 373.04L321.44 375.32L319.16 373.04zM323.89 372.89L326.17 375.17L323.89 377.45L321.61 375.17zM326.34 374.79L328.62 377.07L326.34 379.35L324.06 377.07zM328.79 376.53L331.07 378.81L328.79 381.09L326.51 378.81zM331.24 377.99L333.52 380.27L331.24 382.55L328.96 380.27zM333.69 379.13L335.97 381.41L333.69 383.69L331.41 381.41zM336.14 380.10L338.42 382.38L336.14 384.66L333.86 382.38zM338.59 380.96L340.87 383.24L338.59 385.52L336.31 383.24zM341.04 381.72L343.32 384.00L341.04 386.28L338.76 384.00zM343.49 382.44L345.77 384.72L343.49 387.00L341.21 384.72zM345.94 383.11L348.22 385.39L345.94 387.67L343.66 385.39zM348.39 383.73L350.67 386.01L348.39 388.29L346.11 386.01zM350.84 384.28L353.12 386.56L350.84 388.84L348.56 386.56zM353.29 384.77L355.57 387.05L353.29 389.33L351.01 387.05zM355.74 385.20L358.02 387.48L355.74 389.76L353.46 387.48zM358.19 385.58L360.47 387.86L358.19 390.14L355.91 387.86zM360.64 385.93L362.92 388.21L360.64 390.49L358.36 388.21zM363.09 386.25L365.37 388.53L363.09 390.81L360.81 388.53zM365.54 386.55L367.82 388.83L365.54 391.11L363.26 388.83zM367.96 386.81L370.24 389.09L367.96 391.37L365.68 389.09zM370.23 387.04L372.51 389.32L370.23 391.60L367.95 389.32zM372.37 387.25L374.65 389.53L372.37 391.81L370.09 389.53zM374.37 387.44L376.65 389.72L374.37 392.00L372.09 389.72zM376.26 387.60L378.54 389.88L376.26 392.16L373.98 389.88zM378.04 387.74L380.32 390.02L378.04 392.30L375.76 390.02zM379.70 387.87L381.98 390.15L379.70 392.43L377.42 390.15zM381.27 387.97L383.55 390.25L381.27 392.53L378.99 390.25zM382.74 388.06L385.02 390.34L382.74 392.62L380.46 390.34zM384.13 388.14L386.41 390.42L384.13 392.70L381.85 390.42zM385.43 388.20L387.71 390.48L385.43 392.76L383.15 390.48zM386.68 388.26L388.96 390.54L386.68 392.82L384.40 390.54zM387.93 388.31L390.21 390.59L387.93 392.87L385.65 390.59zM389.18 388.37L391.46 390.65L389.18 392.93L386.90 390.65zM390.43 388.41L392.71 390.69L390.43 392.97L388.15 390.69zM391.68 388.46L393.96 390.74L391.68 393.02L389.40 390.74zM392.93 388.51L395.21 390.79L392.93 393.07L390.65 390.79zM394.18 388.55L396.46 390.83L394.18 393.11L391.90 390.83zM395.43 388.58L397.71 390.86L395.43 393.14L393.15 390.86zM396.68 388.68L398.96 390.96L396.68 393.24L394.40 390.96zM397.93 388.44L400.21 390.72L397.93 393.00L395.65 390.72zM399.18 388.66L401.46 390.94L399.18 393.22L396.90 390.94zM400.43 388.63L402.71 390.91L400.43 393.19L398.15 390.91zM401.68 388.66L403.96 390.94L401.68 393.22L399.40 390.94zM402.93 389.11L405.21 391.39L402.93 393.67L400.65 391.39zM404.18 388.93L406.46 391.21L404.18 393.49L401.90 391.21zM405.43 388.79L407.71 391.07L405.43 393.35L403.15 391.07zM406.68 388.79L408.96 391.07L406.68 393.35L404.40 391.07zM407.93 388.84L410.21 391.12L407.93 393.40L405.65 391.12zM409.18 389.27L411.46 391.55L409.18 393.83L406.90 391.55zM410.43 389.11L412.71 391.39L410.43 393.67L408.15 391.39zM411.68 388.72L413.96 391.00L411.68 393.28L409.40 391.00zM412.93 388.74L415.21 391.02L412.93 393.30L410.65 391.02zM414.18 388.77L416.46 391.05L414.18 393.33L411.90 391.05zM415.43 389.08L417.71 391.36L415.43 393.64L413.15 391.36zM416.68 389.04L418.96 391.32L416.68 393.60L414.40 391.32zM417.93 389.41L420.21 391.69L417.93 393.97L415.65 391.69zM419.18 389.45L421.46 391.73L419.18 394.01L416.90 391.73zM420.43 389.27L422.71 391.55L420.43 393.83L418.15 391.55zM421.68 389.42L423.96 391.70L421.68 393.98L419.40 391.70zM422.93 389.49L425.21 391.77L422.93 394.05L420.65 391.77zM424.18 389.24L426.46 391.52L424.18 393.80L421.90 391.52zM425.43 389.51L427.71 391.79L425.43 394.07L423.15 391.79zM426.68 389.01L428.96 391.29L426.68 393.57L424.40 391.29zM427.93 389.15L430.21 391.43L427.93 393.71L425.65 391.43zM429.18 389.61L431.46 391.89L429.18 394.17L426.90 391.89zM430.43 389.23L432.71 391.51L430.43 393.79L428.15 391.51zM431.68 389.12L433.96 391.40L431.68 393.68L429.40 391.40zM432.93 389.45L435.21 391.73L432.93 394.01L430.65 391.73zM434.18 389.12L436.46 391.40L434.18 393.68L431.90 391.40zM435.43 389.51L437.71 391.79L435.43 394.07L433.15 391.79zM436.68 389.17L438.96 391.45L436.68 393.73L434.40 391.45zM437.93 389.72L440.21 392.00L437.93 394.28L435.65 392.00zM439.18 389.57L441.46 391.85L439.18 394.13L436.90 391.85zM440.43 389.49L442.71 391.77L440.43 394.05L438.15 391.77zM441.68 389.70L443.96 391.98L441.68 394.26L439.40 391.98zM442.93 389.47L445.21 391.75L442.93 394.03L440.65 391.75zM444.18 389.86L446.46 392.14L444.18 394.42L441.90 392.14zM445.43 389.39L447.71 391.67L445.43 393.95L443.15 391.67zM446.68 389.97L448.96 392.25L446.68 394.53L444.40 392.25zM447.93 389.45L450.21 391.73L447.93 394.01L445.65 391.73zM449.18 389.34L451.46 391.62L449.18 393.90L446.90 391.62zM450.43 389.95L452.71 392.23L450.43 394.51L448.15 392.23zM451.68 389.91L453.96 392.19L451.68 394.47L449.40 392.19zM452.93 389.61L455.21 391.89L452.93 394.17L450.65 391.89zM454.18 389.86L456.46 392.14L454.18 394.42L451.90 392.14zM455.43 389.43L457.71 391.71L455.43 393.99L453.15 391.71zM456.68 390.10L458.96 392.38L456.68 394.66L454.40 392.38zM457.93 389.64L460.21 391.92L457.93 394.20L455.65 391.92zM459.18 389.88L461.46 392.16L459.18 394.44L456.90 392.16zM460.43 389.99L462.71 392.27L460.43 394.55L458.15 392.27zM461.68 389.64L463.96 391.92L461.68 394.20L459.40 391.92zM462.93 389.72L465.21 392.00L462.93 394.28L460.65 392.00zM464.18 390.08L466.46 392.36L464.18 394.64L461.90 392.36zM465.43 389.85L467.71 392.13L465.43 394.41L463.15 392.13zM466.68 389.81L468.96 392.09L466.68 394.37L464.40 392.09zM467.93 390.18L470.21 392.46L467.93 394.74L465.65 392.46zM469.18 390.12L471.46 392.40L469.18 394.68L466.90 392.40zM470.43 389.99L472.71 392.27L470.43 394.55L468.15 392.27zM471.68 389.67L473.96 391.95L471.68 394.23L469.40 391.95zM472.93 390.10L475.21 392.38L472.93 394.66L470.65 392.38zM474.18 390.02L476.46 392.30L474.18 394.58L471.90 392.30zM475.43 390.14L477.71 392.42L475.43 394.70L473.15 392.42zM476.68 390.22L478.96 392.50L476.68 394.78L474.40 392.50zM477.93 390.05L480.21 392.33L477.93 394.61L475.65 392.33zM479.18 390.26L481.46 392.54L479.18 394.82L476.90 392.54zM480.43 389.75L482.71 392.03L480.43 394.31L478.15 392.03zM481.68 390.10L483.96 392.38L481.68 394.66L479.40 392.38zM482.93 390.12L485.21 392.40L482.93 394.68L480.65 392.40zM484.18 389.83L486.46 392.11L484.18 394.39L481.90 392.11zM485.43 389.83L487.71 392.11L485.43 394.39L483.15 392.11zM486.68 390.20L488.96 392.48L486.68 394.76L484.40 392.48zM487.93 389.76L490.21 392.04L487.93 394.32L485.65 392.04zM489.18 389.78L491.46 392.06L489.18 394.34L486.90 392.06zM490.43 389.73L492.71 392.01L490.43 394.29L488.15 392.01zM491.68 390.19L493.96 392.47L491.68 394.75L489.40 392.47zM492.93 389.82L495.21 392.10L492.93 394.38L490.65 392.10zM494.18 389.98L496.46 392.26L494.18 394.54L491.90 392.26zM495.43 389.75L497.71 392.03L495.43 394.31L493.15 392.03zM496.68 390.33L498.96 392.61L496.68 394.89L494.40 392.61zM497.93 390.00L500.21 392.28L497.93 394.56L495.65 392.28zM499.18 390.03L501.46 392.31L499.18 394.59L496.90 392.31zM500.43 389.76L502.71 392.04L500.43 394.32L498.15 392.04zM501.68 390.12L503.96 392.40L501.68 394.68L499.40 392.40zM502.93 390.19L505.21 392.47L502.93 394.75L500.65 392.47zM504.18 390.09L506.46 392.37L504.18 394.65L501.90 392.37zM505.43 389.88L507.71 392.16L505.43 394.44L503.15 392.16zM506.68 390.33L508.96 392.61L506.68 394.89L504.40 392.61zM507.93 389.74L510.21 392.02L507.93 394.30L505.65 392.02zM509.18 389.91L511.46 392.19L509.18 394.47L506.90 392.19zM510.43 390.19L512.71 392.47L510.43 394.75L508.15 392.47zM511.68 389.96L513.96 392.24L511.68 394.52L509.40 392.24zM512.93 389.87L515.21 392.15L512.93 394.43L510.65 392.15zM514.18 389.90L516.46 392.18L514.18 394.46L511.90 392.18zM515.43 390.05L517.71 392.33L515.43 394.61L513.15 392.33zM516.68 390.18L518.96 392.46L516.68 394.74L514.40 392.46zM517.93 390.01L520.21 392.29L517.93 394.57L515.65 392.29zM519.18 390.21L521.46 392.49L519.18 394.77L516.90 392.49zM520.43 389.79L522.71 392.07L520.43 394.35L518.15 392.07zM521.68 389.87L523.96 392.15L521.68 394.43L519.40 392.15zM522.93 390.28L525.21 392.56L522.93 394.84L520.65 392.56zM524.18 390.04L526.46 392.32L524.18 394.60L521.90 392.32zM525.43 389.91L527.71 392.19L525.43 394.47L523.15 392.19zM526.68 390.26L528.96 392.54L526.68 394.82L524.40 392.54zM527.93 389.70L530.21 391.98L527.93 394.26L525.65 391.98zM529.18 390.28L531.46 392.56L529.18 394.84L526.90 392.56zM530.43 390.03L532.71 392.31L530.43 394.59L528.15 392.31zM531.68 390.17L533.96 392.45L531.68 394.73L529.40 392.45zM532.93 389.87L535.21 392.15L532.93 394.43L530.65 392.15zM534.18 389.69L536.46 391.97L534.18 394.25L531.90 391.97zM535.43 389.69L537.71 391.97L535.43 394.25L533.15 391.97zM536.68 389.89L538.96 392.17L536.68 394.45L534.40 392.17zM537.93 390.30L540.21 392.58L537.93 394.86L535.65 392.58zM539.18 390.34L541.46 392.62L539.18 394.90L536.90 392.62zM540.43 389.82L542.71 392.10L540.43 394.38L538.15 392.10zM541.68 389.81L543.96 392.09L541.68 394.37L539.40 392.09zM542.93 390.20L545.21 392.48L542.93 394.76L540.65 392.48zM544.18 390.24L546.46 392.52L544.18 394.80L541.90 392.52zM545.43 389.70L547.71 391.98L545.43 394.26L543.15 391.98zM546.68 390.14L548.96 392.42L546.68 394.70L544.40 392.42zM547.93 390.19L550.21 392.47L547.93 394.75L545.65 392.47zM549.18 390.12L551.46 392.40L549.18 394.68L546.90 392.40zM550.43 390.29L552.71 392.57L550.43 394.85L548.15 392.57zM551.68 389.78L553.96 392.06L551.68 394.34L549.40 392.06zM552.93 389.98L555.21 392.26L552.93 394.54L550.65 392.26zM554.18 390.32L556.46 392.60L554.18 394.88L551.90 392.60zM555.43 389.83L557.71 392.11L555.43 394.39L553.15 392.11zM556.68 390.26L558.96 392.54L556.68 394.82L554.40 392.54zM557.93 390.21L560.21 392.49L557.93 394.77L555.65 392.49zM559.18 389.90L561.46 392.18L559.18 394.46L556.90 392.18zM560.43 390.33L562.71 392.61L560.43 394.89L558.15 392.61zM561.68 389.94L563.96 392.22L561.68 394.50L559.40 392.22zM562.93 390.13L565.21 392.41L562.93 394.69L560.65 392.41zM564.18 390.06L566.46 392.34L564.18 394.62L561.90 392.34z"/>
<path d="M82.9 12.700000000000001V428.1H611.1" fill="none" stroke="#1e1e1e" stroke-width="1.5"/>
<path d="M78.60 428.42H82.9M74.50 405.40H82.9M78.60 382.38H82.9M74.50 359.35H82.9M78.60 336.32H82.9M74.50 313.30H82.9M78.60 290.27H82.9M74.50 267.25H82.9M78.60 244.22H82.9M74.50 221.20H82.9M78.60 198.17H82.9M74.50 175.15H82.9M78.60 152.12H82.9M74.50 129.10H82.9M78.60 106.07H82.9M74.50 83.05H82.9M78.60 60.02H82.9M74.50 37.00H82.9M78.60 13.97H82.9M105.50 428.1v8.6M151.39 428.1v4.5M197.28 428.1v8.6M243.17 428.1v4.5M289.06 428.1v8.6M334.95 428.1v4.5M380.84 428.1v8.6M426.73 428.1v4.5M472.62 428.1v8.6M518.51 428.1v4.5M564.40 428.1v8.6M610.29 428.1v4.5" fill="none" stroke="#1e1e1e" stroke-width="1.5"/>
<g fill="#1c1c1c">
<rect x="461.6" y="1.8" width="222" height="173.5" fill="#fff" stroke="#555" stroke-width="1"/>
<path fill="#000000" d="M481.95 27.15h3.3v3.3h-3.3z"/>
<text transform="translate(508.8,34.050000000000004) scale(1.045,1)" font-size="17.4">SEC</text>
<path fill="#ff0000" d="M481.72 50.50a1.88 1.88 0 1 0 3.76 0a1.88 1.88 0 1 0 -3.76 0z"/>
<text transform="translate(508.8,55.75) scale(1.045,1)" font-size="17.4">0.5% CNT +SEC</text>
<path fill="#00ff00" d="M483.60 70.10L485.98 74.28H481.22z"/>
<text transform="translate(508.8,77.55) scale(1.045,1)" font-size="17.4">1.0% CNT + SEC</text>
<path fill="#0000ff" d="M483.60 96.45L485.80 92.55H481.40z"/>
<text transform="translate(508.8,99.64999999999999) scale(1.045,1)" font-size="17.4">1.5% CNT + SEC</text>
<path fill="#00ffff" d="M483.60 113.82L485.88 116.10L483.60 118.38L481.32 116.10z"/>
<text transform="translate(508.8,121.35) scale(1.045,1)" font-size="17.4">2.0% CNT + SEC</text>
</g>
</svg>
</body></html>
